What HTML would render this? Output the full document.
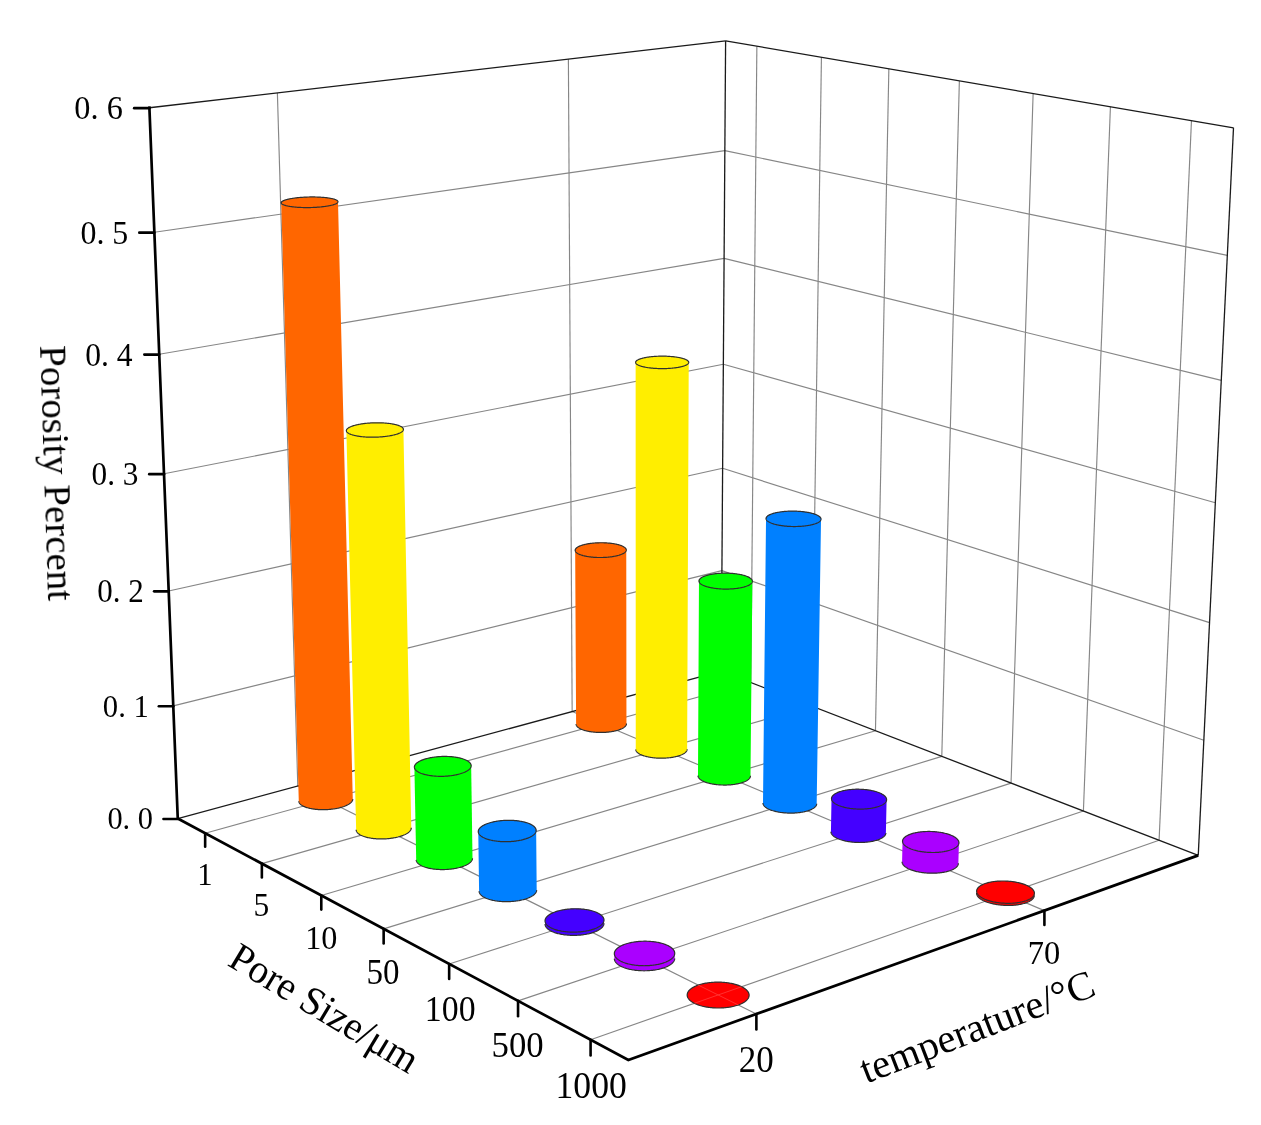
<!DOCTYPE html>
<html><head><meta charset="utf-8"><style>
html,body{margin:0;padding:0;background:#fff;}
svg{display:block;}
text{font-family:"Liberation Serif",serif;fill:#000;}
.t{opacity:0.999}
</style></head><body>
<svg width="1261" height="1125" viewBox="0 0 1261 1125">
<rect width="1261" height="1125" fill="#fff"/>
<line x1="173.27" y1="705.86" x2="721.91" y2="570.59" stroke="#868686" stroke-width="1.15"/>
<line x1="168.68" y1="590.95" x2="722.63" y2="468.31" stroke="#868686" stroke-width="1.15"/>
<line x1="164.01" y1="473.75" x2="723.35" y2="364.25" stroke="#868686" stroke-width="1.15"/>
<line x1="159.24" y1="354.2" x2="724.09" y2="258.35" stroke="#868686" stroke-width="1.15"/>
<line x1="154.37" y1="232.23" x2="724.84" y2="150.57" stroke="#868686" stroke-width="1.15"/>
<line x1="297.79" y1="785.99" x2="277.39" y2="92.9" stroke="#868686" stroke-width="1.15"/>
<line x1="572.15" y1="711.56" x2="568.39" y2="59.11" stroke="#868686" stroke-width="1.15"/>
<line x1="721.91" y1="570.59" x2="1203.83" y2="740.19" stroke="#868686" stroke-width="1.15"/>
<line x1="722.63" y1="468.31" x2="1209.53" y2="622.66" stroke="#868686" stroke-width="1.15"/>
<line x1="723.35" y1="364.25" x2="1215.34" y2="502.74" stroke="#868686" stroke-width="1.15"/>
<line x1="724.09" y1="258.35" x2="1221.27" y2="380.34" stroke="#868686" stroke-width="1.15"/>
<line x1="724.84" y1="150.57" x2="1227.32" y2="255.4" stroke="#868686" stroke-width="1.15"/>
<line x1="750.82" y1="682.56" x2="756.87" y2="46.21" stroke="#868686" stroke-width="1.15"/>
<line x1="811.86" y1="706.14" x2="821.43" y2="57.27" stroke="#868686" stroke-width="1.15"/>
<line x1="875.46" y1="730.71" x2="888.86" y2="68.82" stroke="#868686" stroke-width="1.15"/>
<line x1="941.8" y1="756.33" x2="959.36" y2="80.89" stroke="#868686" stroke-width="1.15"/>
<line x1="1011.05" y1="783.08" x2="1033.13" y2="93.52" stroke="#868686" stroke-width="1.15"/>
<line x1="1083.41" y1="811.03" x2="1110.42" y2="106.76" stroke="#868686" stroke-width="1.15"/>
<line x1="1159.09" y1="840.27" x2="1191.47" y2="120.64" stroke="#868686" stroke-width="1.15"/>
<line x1="205.15" y1="833.23" x2="750.82" y2="682.56" stroke="#868686" stroke-width="1.15"/>
<line x1="261.86" y1="863.61" x2="811.86" y2="706.14" stroke="#868686" stroke-width="1.15"/>
<line x1="321.29" y1="895.44" x2="875.46" y2="730.71" stroke="#868686" stroke-width="1.15"/>
<line x1="383.65" y1="928.85" x2="941.8" y2="756.33" stroke="#868686" stroke-width="1.15"/>
<line x1="449.15" y1="963.94" x2="1011.05" y2="783.08" stroke="#868686" stroke-width="1.15"/>
<line x1="518.04" y1="1000.84" x2="1083.41" y2="811.03" stroke="#868686" stroke-width="1.15"/>
<line x1="590.59" y1="1039.7" x2="1159.09" y2="840.27" stroke="#868686" stroke-width="1.15"/>
<line x1="297.79" y1="785.99" x2="756.38" y2="1013.97" stroke="#868686" stroke-width="1.15"/>
<line x1="572.15" y1="711.56" x2="1044.41" y2="910.6" stroke="#868686" stroke-width="1.15"/>
<line x1="149.4" y1="107.76" x2="725.61" y2="40.86" stroke="#1a1a1a" stroke-width="1.3"/>
<line x1="725.61" y1="40.86" x2="1233.5" y2="127.84" stroke="#1a1a1a" stroke-width="1.3"/>
<line x1="1233.5" y1="127.84" x2="1198.25" y2="855.39" stroke="#1a1a1a" stroke-width="1.3"/>
<line x1="721.21" y1="671.13" x2="725.61" y2="40.86" stroke="#1a1a1a" stroke-width="1.3"/>
<line x1="177.76" y1="818.56" x2="721.21" y2="671.13" stroke="#1a1a1a" stroke-width="1.3"/>
<line x1="721.21" y1="671.13" x2="1198.25" y2="855.39" stroke="#1a1a1a" stroke-width="1.3"/>
<polygon points="575.17,550.28 575.19,550.02 575.24,549.76 575.32,549.51 575.43,549.25 575.57,548.99 575.74,548.74 575.94,548.49 576.17,548.24 576.44,547.99 576.73,547.75 577.05,547.5 577.4,547.27 577.77,547.03 578.18,546.8 578.61,546.57 579.07,546.35 579.55,546.13 580.06,545.92 580.6,545.71 581.15,545.51 581.74,545.31 582.34,545.12 582.97,544.93 583.62,544.75 584.29,544.58 584.98,544.42 585.68,544.26 586.41,544.11 587.15,543.96 587.91,543.82 588.69,543.7 589.47,543.57 590.28,543.46 591.09,543.36 591.92,543.26 592.75,543.17 593.6,543.09 594.45,543.02 595.32,542.95 596.18,542.9 597.06,542.85 597.94,542.81 598.82,542.78 599.7,542.76 600.59,542.75 601.47,542.75 602.35,542.76 603.24,542.77 604.12,542.8 604.99,542.83 605.86,542.87 606.73,542.92 607.58,542.98 608.43,543.05 609.27,543.13 610.1,543.21 610.92,543.3 611.72,543.41 612.51,543.52 613.29,543.63 614.06,543.76 614.8,543.89 615.53,544.03 616.25,544.18 616.94,544.33 617.62,544.5 618.27,544.67 618.91,544.84 619.52,545.02 620.11,545.21 620.67,545.41 621.21,545.61 621.73,545.81 622.22,546.02 622.69,546.24 623.13,546.46 623.54,546.68 623.93,546.91 624.29,547.14 624.61,547.38 624.91,547.62 625.18,547.86 625.43,548.11 625.64,548.36 625.82,548.61 625.97,548.86 626.09,549.12 626.18,549.37 626.23,549.63 626.26,549.89 626.46,723.6 626.45,723.9 626.42,724.2 626.35,724.5 626.26,724.79 626.13,725.09 625.97,725.38 625.79,725.68 625.57,725.97 625.32,726.26 625.05,726.54 624.74,726.83 624.41,727.11 624.04,727.38 623.65,727.65 623.24,727.92 622.79,728.18 622.32,728.44 621.82,728.69 621.3,728.93 620.75,729.17 620.18,729.41 619.59,729.63 618.97,729.85 618.33,730.06 617.67,730.27 616.99,730.46 616.29,730.65 615.57,730.83 614.83,731 614.08,731.17 613.31,731.32 612.53,731.46 611.73,731.6 610.92,731.73 610.1,731.84 609.26,731.95 608.42,732.05 607.57,732.13 606.7,732.21 605.84,732.28 604.96,732.33 604.09,732.38 603.21,732.41 602.32,732.44 601.44,732.45 600.55,732.45 599.67,732.45 598.79,732.43 597.91,732.4 597.03,732.36 596.16,732.31 595.3,732.25 594.44,732.18 593.6,732.1 592.76,732.01 591.93,731.91 591.12,731.8 590.32,731.68 589.53,731.56 588.75,731.42 587.99,731.27 587.25,731.11 586.53,730.95 585.82,730.77 585.13,730.59 584.46,730.4 583.82,730.2 583.19,729.99 582.59,729.78 582.01,729.55 581.45,729.33 580.92,729.09 580.42,728.85 579.94,728.6 579.48,728.35 579.06,728.09 578.66,727.83 578.28,727.56 577.94,727.29 577.62,727.01 577.34,726.73 577.08,726.44 576.86,726.16 576.66,725.87 576.49,725.58 576.36,725.28 576.25,724.99 576.17,724.69 576.13,724.39 576.12,724.09" fill="#ff6600"/>
<polyline points="626.46,723.6 626.45,723.9 626.42,724.2 626.35,724.5 626.26,724.79 626.13,725.09 625.97,725.38 625.79,725.68 625.57,725.97 625.32,726.26 625.05,726.54 624.74,726.83 624.41,727.11 624.04,727.38 623.65,727.65 623.24,727.92 622.79,728.18 622.32,728.44 621.82,728.69 621.3,728.93 620.75,729.17 620.18,729.41 619.59,729.63 618.97,729.85 618.33,730.06 617.67,730.27 616.99,730.46 616.29,730.65 615.57,730.83 614.83,731 614.08,731.17 613.31,731.32 612.53,731.46 611.73,731.6 610.92,731.73 610.1,731.84 609.26,731.95 608.42,732.05 607.57,732.13 606.7,732.21 605.84,732.28 604.96,732.33 604.09,732.38 603.21,732.41 602.32,732.44 601.44,732.45 600.55,732.45 599.67,732.45 598.79,732.43 597.91,732.4 597.03,732.36 596.16,732.31 595.3,732.25 594.44,732.18 593.6,732.1 592.76,732.01 591.93,731.91 591.12,731.8 590.32,731.68 589.53,731.56 588.75,731.42 587.99,731.27 587.25,731.11 586.53,730.95 585.82,730.77 585.13,730.59 584.46,730.4 583.82,730.2 583.19,729.99 582.59,729.78 582.01,729.55 581.45,729.33 580.92,729.09 580.42,728.85 579.94,728.6 579.48,728.35 579.06,728.09 578.66,727.83 578.28,727.56 577.94,727.29 577.62,727.01 577.34,726.73 577.08,726.44 576.86,726.16 576.66,725.87 576.49,725.58 576.36,725.28 576.25,724.99 576.17,724.69 576.13,724.39 576.12,724.09" fill="none" stroke="#303030" stroke-width="1.2"/>
<polygon points="616.65,555.81 617.34,555.64 618.01,555.47 618.66,555.29 619.29,555.1 619.89,554.9 620.47,554.7 621.03,554.49 621.56,554.28 622.06,554.07 622.54,553.84 622.99,553.62 623.42,553.39 623.81,553.15 624.18,552.92 624.52,552.67 624.83,552.43 625.11,552.18 625.36,551.93 625.58,551.68 625.77,551.43 625.93,551.17 626.06,550.92 626.16,550.66 626.22,550.4 626.26,550.15 626.26,549.89 626.23,549.63 626.18,549.37 626.09,549.12 625.97,548.86 625.82,548.61 625.64,548.36 625.43,548.11 625.18,547.86 624.91,547.62 624.61,547.38 624.29,547.14 623.93,546.91 623.54,546.68 623.13,546.46 622.69,546.24 622.22,546.02 621.73,545.81 621.21,545.61 620.67,545.41 620.11,545.21 619.52,545.02 618.91,544.84 618.27,544.67 617.62,544.5 616.94,544.33 616.25,544.18 615.53,544.03 614.8,543.89 614.06,543.76 613.29,543.63 612.51,543.52 611.72,543.41 610.92,543.3 610.1,543.21 609.27,543.13 608.43,543.05 607.58,542.98 606.73,542.92 605.86,542.87 604.99,542.83 604.12,542.8 603.24,542.77 602.35,542.76 601.47,542.75 600.59,542.75 599.7,542.76 598.82,542.78 597.94,542.81 597.06,542.85 596.18,542.9 595.32,542.95 594.45,543.02 593.6,543.09 592.75,543.17 591.92,543.26 591.09,543.36 590.28,543.46 589.47,543.57 588.69,543.7 587.91,543.82 587.15,543.96 586.41,544.11 585.68,544.26 584.98,544.42 584.29,544.58 583.62,544.75 582.97,544.93 582.34,545.12 581.74,545.31 581.15,545.51 580.6,545.71 580.06,545.92 579.55,546.13 579.07,546.35 578.61,546.57 578.18,546.8 577.77,547.03 577.4,547.27 577.05,547.5 576.73,547.75 576.44,547.99 576.17,548.24 575.94,548.49 575.74,548.74 575.57,548.99 575.43,549.25 575.32,549.51 575.24,549.76 575.19,550.02 575.17,550.28 575.19,550.54 575.23,550.79 575.31,551.05 575.42,551.31 575.55,551.56 575.72,551.81 575.92,552.06 576.15,552.31 576.41,552.56 576.7,552.8 577.02,553.04 577.37,553.28 577.75,553.51 578.15,553.74 578.59,553.96 579.05,554.18 579.53,554.39 580.05,554.6 580.59,554.81 581.15,555 581.74,555.2 582.35,555.38 582.98,555.56 583.64,555.73 584.32,555.9 585.02,556.06 585.73,556.21 586.47,556.35 587.22,556.49 587.99,556.62 588.78,556.74 589.58,556.85 590.39,556.95 591.22,557.05 592.06,557.14 592.91,557.22 593.77,557.29 594.64,557.35 595.51,557.4 596.4,557.44 597.28,557.48 598.18,557.5 599.07,557.52 599.97,557.52 600.87,557.52 601.77,557.51 602.66,557.49 603.56,557.46 604.45,557.42 605.33,557.37 606.21,557.32 607.09,557.25 607.95,557.18 608.81,557.09 609.66,557 610.49,556.9 611.31,556.79 612.12,556.68 612.92,556.55 613.7,556.42 614.47,556.28 615.21,556.13 615.94,555.98" fill="#ff6600" stroke="#303030" stroke-width="1.2"/>
<polygon points="635.63,362.48 635.64,362.27 635.67,362.05 635.74,361.83 635.83,361.62 635.96,361.4 636.13,361.19 636.32,360.97 636.55,360.76 636.8,360.55 637.09,360.35 637.41,360.14 637.75,359.94 638.13,359.74 638.54,359.55 638.97,359.36 639.43,359.17 639.92,358.99 640.44,358.81 640.98,358.63 641.55,358.46 642.14,358.3 642.76,358.13 643.4,357.98 644.06,357.83 644.75,357.68 645.45,357.54 646.18,357.41 646.92,357.28 647.69,357.16 648.47,357.05 649.26,356.94 650.08,356.84 650.9,356.74 651.74,356.65 652.59,356.57 653.46,356.5 654.33,356.43 655.21,356.37 656.11,356.32 657.01,356.27 657.91,356.23 658.82,356.2 659.73,356.18 660.65,356.16 661.57,356.15 662.49,356.15 663.41,356.16 664.33,356.17 665.24,356.2 666.15,356.22 667.06,356.26 667.96,356.3 668.86,356.35 669.74,356.41 670.62,356.48 671.49,356.55 672.34,356.63 673.19,356.72 674.02,356.81 674.83,356.91 675.63,357.02 676.42,357.13 677.19,357.25 677.94,357.37 678.67,357.5 679.38,357.64 680.07,357.78 680.74,357.93 681.39,358.09 682.02,358.25 682.62,358.41 683.19,358.58 683.74,358.75 684.27,358.93 684.77,359.12 685.24,359.3 685.68,359.49 686.1,359.69 686.48,359.88 686.84,360.08 687.17,360.29 687.47,360.49 687.73,360.7 687.97,360.91 688.17,361.12 688.35,361.34 688.49,361.55 688.6,361.77 688.67,361.98 688.72,362.2 688.73,362.42 687.14,749.25 687.12,749.56 687.07,749.88 686.99,750.19 686.88,750.49 686.73,750.8 686.56,751.11 686.35,751.41 686.12,751.71 685.85,752.01 685.55,752.31 685.23,752.6 684.87,752.89 684.49,753.17 684.07,753.45 683.63,753.72 683.17,753.99 682.67,754.25 682.15,754.51 681.6,754.76 681.03,755 680.44,755.24 679.82,755.46 679.18,755.68 678.51,755.9 677.83,756.1 677.12,756.3 676.4,756.49 675.66,756.67 674.89,756.84 674.12,757 673.32,757.15 672.52,757.29 671.69,757.42 670.86,757.54 670.01,757.66 669.16,757.76 668.29,757.85 667.42,757.93 666.53,758 665.65,758.06 664.75,758.1 663.85,758.14 662.95,758.17 662.05,758.18 661.15,758.18 660.24,758.18 659.34,758.16 658.44,758.13 657.55,758.09 656.66,758.04 655.77,757.98 654.89,757.9 654.03,757.82 653.17,757.73 652.32,757.62 651.48,757.51 650.65,757.38 649.84,757.25 649.04,757.1 648.26,756.95 647.49,756.78 646.74,756.61 646.01,756.43 645.3,756.24 644.61,756.04 643.94,755.83 643.29,755.61 642.66,755.39 642.06,755.16 641.48,754.92 640.92,754.68 640.39,754.42 639.89,754.17 639.41,753.9 638.96,753.63 638.54,753.36 638.15,753.08 637.78,752.79 637.45,752.5 637.14,752.21 636.86,751.91 636.62,751.61 636.4,751.31 636.22,751.01 636.06,750.7 635.94,750.39 635.85,750.08 635.79,749.77 635.76,749.46" fill="#ffee00"/>
<polyline points="687.14,749.25 687.12,749.56 687.07,749.88 686.99,750.19 686.88,750.49 686.73,750.8 686.56,751.11 686.35,751.41 686.12,751.71 685.85,752.01 685.55,752.31 685.23,752.6 684.87,752.89 684.49,753.17 684.07,753.45 683.63,753.72 683.17,753.99 682.67,754.25 682.15,754.51 681.6,754.76 681.03,755 680.44,755.24 679.82,755.46 679.18,755.68 678.51,755.9 677.83,756.1 677.12,756.3 676.4,756.49 675.66,756.67 674.89,756.84 674.12,757 673.32,757.15 672.52,757.29 671.69,757.42 670.86,757.54 670.01,757.66 669.16,757.76 668.29,757.85 667.42,757.93 666.53,758 665.65,758.06 664.75,758.1 663.85,758.14 662.95,758.17 662.05,758.18 661.15,758.18 660.24,758.18 659.34,758.16 658.44,758.13 657.55,758.09 656.66,758.04 655.77,757.98 654.89,757.9 654.03,757.82 653.17,757.73 652.32,757.62 651.48,757.51 650.65,757.38 649.84,757.25 649.04,757.1 648.26,756.95 647.49,756.78 646.74,756.61 646.01,756.43 645.3,756.24 644.61,756.04 643.94,755.83 643.29,755.61 642.66,755.39 642.06,755.16 641.48,754.92 640.92,754.68 640.39,754.42 639.89,754.17 639.41,753.9 638.96,753.63 638.54,753.36 638.15,753.08 637.78,752.79 637.45,752.5 637.14,752.21 636.86,751.91 636.62,751.61 636.4,751.31 636.22,751.01 636.06,750.7 635.94,750.39 635.85,750.08 635.79,749.77 635.76,749.46" fill="none" stroke="#303030" stroke-width="1.2"/>
<polygon points="679.11,367.2 679.82,367.06 680.5,366.91 681.17,366.75 681.81,366.59 682.42,366.43 683.01,366.26 683.58,366.09 684.11,365.91 684.62,365.73 685.11,365.54 685.56,365.35 685.99,365.15 686.39,364.96 686.75,364.76 687.09,364.55 687.4,364.35 687.67,364.14 687.91,363.93 688.13,363.72 688.31,363.5 688.46,363.29 688.57,363.07 688.66,362.85 688.71,362.64 688.73,362.42 688.72,362.2 688.67,361.98 688.6,361.77 688.49,361.55 688.35,361.34 688.17,361.12 687.97,360.91 687.73,360.7 687.47,360.49 687.17,360.29 686.84,360.08 686.48,359.88 686.1,359.69 685.68,359.49 685.24,359.3 684.77,359.12 684.27,358.93 683.74,358.75 683.19,358.58 682.62,358.41 682.02,358.25 681.39,358.09 680.74,357.93 680.07,357.78 679.38,357.64 678.67,357.5 677.94,357.37 677.19,357.25 676.42,357.13 675.63,357.02 674.83,356.91 674.02,356.81 673.19,356.72 672.34,356.63 671.49,356.55 670.62,356.48 669.74,356.41 668.86,356.35 667.96,356.3 667.06,356.26 666.15,356.22 665.24,356.2 664.33,356.17 663.41,356.16 662.49,356.15 661.57,356.15 660.65,356.16 659.73,356.18 658.82,356.2 657.91,356.23 657.01,356.27 656.11,356.32 655.21,356.37 654.33,356.43 653.46,356.5 652.59,356.57 651.74,356.65 650.9,356.74 650.08,356.84 649.26,356.94 648.47,357.05 647.69,357.16 646.92,357.28 646.18,357.41 645.45,357.54 644.75,357.68 644.06,357.83 643.4,357.98 642.76,358.13 642.14,358.3 641.55,358.46 640.98,358.63 640.44,358.81 639.92,358.99 639.43,359.17 638.97,359.36 638.54,359.55 638.13,359.74 637.75,359.94 637.41,360.14 637.09,360.35 636.8,360.55 636.55,360.76 636.32,360.97 636.13,361.19 635.96,361.4 635.83,361.62 635.74,361.83 635.67,362.05 635.64,362.27 635.63,362.48 635.66,362.7 635.73,362.92 635.82,363.14 635.95,363.35 636.11,363.57 636.3,363.78 636.52,363.99 636.78,364.2 637.07,364.41 637.38,364.62 637.73,364.82 638.11,365.02 638.51,365.21 638.95,365.41 639.41,365.6 639.91,365.78 640.43,365.96 640.97,366.14 641.55,366.31 642.15,366.48 642.77,366.64 643.42,366.8 644.09,366.95 644.78,367.1 645.5,367.24 646.23,367.38 646.99,367.5 647.76,367.63 648.55,367.74 649.36,367.85 650.19,367.95 651.03,368.05 651.88,368.14 652.75,368.22 653.63,368.29 654.51,368.36 655.41,368.42 656.32,368.47 657.23,368.52 658.15,368.56 659.08,368.59 660.01,368.61 660.94,368.62 661.87,368.63 662.81,368.63 663.74,368.62 664.67,368.6 665.6,368.58 666.52,368.55 667.44,368.51 668.35,368.46 669.26,368.4 670.15,368.34 671.04,368.27 671.91,368.2 672.77,368.11 673.62,368.02 674.46,367.92 675.28,367.82 676.08,367.71 676.87,367.59 677.63,367.47 678.38,367.33" fill="#ffee00" stroke="#303030" stroke-width="1.2"/>
<polygon points="697.99,775.61 698.97,580.99 698.98,580.71 699.03,580.44 699.12,580.16 699.23,579.88 699.38,579.61 699.56,579.34 699.77,579.07 700.01,578.8 700.28,578.54 700.58,578.28 700.92,578.02 701.28,577.77 701.67,577.52 702.09,577.27 702.54,577.03 703.02,576.8 703.53,576.57 704.06,576.34 704.62,576.13 705.2,575.91 705.81,575.71 706.44,575.51 707.09,575.31 707.77,575.13 708.47,574.95 709.18,574.78 709.92,574.62 710.68,574.46 711.46,574.31 712.25,574.17 713.06,574.04 713.88,573.92 714.72,573.81 715.57,573.7 716.43,573.6 717.3,573.52 718.18,573.44 719.08,573.37 719.98,573.31 720.88,573.26 721.8,573.22 722.71,573.19 723.63,573.17 724.56,573.16 725.48,573.15 726.4,573.16 727.33,573.18 728.25,573.2 729.17,573.24 730.08,573.28 730.99,573.34 731.89,573.4 732.79,573.47 733.68,573.56 734.55,573.65 735.42,573.75 736.28,573.86 737.12,573.98 737.95,574.1 738.76,574.24 739.56,574.38 740.34,574.53 741.1,574.69 741.85,574.86 742.58,575.03 743.28,575.21 743.97,575.4 744.63,575.6 745.27,575.8 745.89,576.01 746.48,576.23 747.05,576.45 747.59,576.67 748.11,576.91 748.59,577.14 749.06,577.39 749.49,577.63 749.89,577.88 750.27,578.14 750.61,578.4 750.93,578.66 751.21,578.93 751.46,579.19 751.69,579.46 751.88,579.74 752.04,580.01 752.16,580.29 752.26,580.56 752.32,580.84 752.35,581.12 750.49,775.71 750.48,776.04 750.45,776.36 750.38,776.69 750.28,777.01 750.15,777.33 749.99,777.65 749.8,777.97 749.57,778.28 749.31,778.6 749.03,778.9 748.71,779.21 748.36,779.51 747.98,779.8 747.58,780.09 747.14,780.38 746.68,780.66 746.19,780.93 745.67,781.2 745.12,781.46 744.55,781.72 743.96,781.96 743.34,782.2 742.69,782.43 742.03,782.66 741.34,782.87 740.63,783.08 739.9,783.27 739.15,783.46 738.38,783.64 737.6,783.81 736.79,783.96 735.98,784.11 735.14,784.25 734.3,784.38 733.44,784.49 732.57,784.6 731.69,784.69 730.8,784.78 729.9,784.85 729,784.91 728.09,784.96 727.17,785 726.25,785.03 725.33,785.04 724.41,785.05 723.48,785.04 722.56,785.02 721.64,784.99 720.72,784.95 719.81,784.89 718.9,784.83 718,784.75 717.11,784.67 716.23,784.57 715.35,784.46 714.49,784.34 713.64,784.21 712.8,784.07 711.98,783.92 711.17,783.75 710.38,783.58 709.61,783.4 708.85,783.21 708.11,783.01 707.39,782.8 706.7,782.59 706.02,782.36 705.37,782.13 704.74,781.89 704.14,781.64 703.56,781.38 703,781.12 702.48,780.85 701.97,780.57 701.5,780.29 701.06,780 700.64,779.71 700.25,779.42 699.89,779.11 699.56,778.81 699.26,778.5 699,778.19 698.76,777.87 698.55,777.55 698.38,777.23 698.24,776.91 698.13,776.59 698.05,776.26 698,775.94" fill="#00ff00"/>
<polyline points="750.49,775.71 750.48,776.04 750.45,776.36 750.38,776.69 750.28,777.01 750.15,777.33 749.99,777.65 749.8,777.97 749.57,778.28 749.31,778.6 749.03,778.9 748.71,779.21 748.36,779.51 747.98,779.8 747.58,780.09 747.14,780.38 746.68,780.66 746.19,780.93 745.67,781.2 745.12,781.46 744.55,781.72 743.96,781.96 743.34,782.2 742.69,782.43 742.03,782.66 741.34,782.87 740.63,783.08 739.9,783.27 739.15,783.46 738.38,783.64 737.6,783.81 736.79,783.96 735.98,784.11 735.14,784.25 734.3,784.38 733.44,784.49 732.57,784.6 731.69,784.69 730.8,784.78 729.9,784.85 729,784.91 728.09,784.96 727.17,785 726.25,785.03 725.33,785.04 724.41,785.05 723.48,785.04 722.56,785.02 721.64,784.99 720.72,784.95 719.81,784.89 718.9,784.83 718,784.75 717.11,784.67 716.23,784.57 715.35,784.46 714.49,784.34 713.64,784.21 712.8,784.07 711.98,783.92 711.17,783.75 710.38,783.58 709.61,783.4 708.85,783.21 708.11,783.01 707.39,782.8 706.7,782.59 706.02,782.36 705.37,782.13 704.74,781.89 704.14,781.64 703.56,781.38 703,781.12 702.48,780.85 701.97,780.57 701.5,780.29 701.06,780 700.64,779.71 700.25,779.42 699.89,779.11 699.56,778.81 699.26,778.5 699,778.19 698.76,777.87 698.55,777.55 698.38,777.23 698.24,776.91 698.13,776.59 698.05,776.26 698,775.94 697.99,775.61" fill="none" stroke="#303030" stroke-width="1.2"/>
<polygon points="743.06,587.23 743.76,587.05 744.43,586.86 745.09,586.66 745.72,586.46 746.32,586.25 746.9,586.03 747.46,585.81 747.98,585.58 748.48,585.35 748.95,585.11 749.4,584.86 749.81,584.61 750.19,584.36 750.55,584.1 750.87,583.84 751.16,583.58 751.42,583.31 751.65,583.05 751.85,582.77 752.01,582.5 752.14,582.23 752.24,581.95 752.31,581.67 752.35,581.4 752.35,581.12 752.32,580.84 752.26,580.56 752.16,580.29 752.04,580.01 751.88,579.74 751.69,579.46 751.46,579.19 751.21,578.93 750.93,578.66 750.61,578.4 750.27,578.14 749.89,577.88 749.49,577.63 749.06,577.39 748.59,577.14 748.11,576.91 747.59,576.67 747.05,576.45 746.48,576.23 745.89,576.01 745.27,575.8 744.63,575.6 743.97,575.4 743.28,575.21 742.58,575.03 741.85,574.86 741.1,574.69 740.34,574.53 739.56,574.38 738.76,574.24 737.95,574.1 737.12,573.98 736.28,573.86 735.42,573.75 734.55,573.65 733.68,573.56 732.79,573.47 731.89,573.4 730.99,573.34 730.08,573.28 729.17,573.24 728.25,573.2 727.33,573.18 726.4,573.16 725.48,573.15 724.56,573.16 723.63,573.17 722.71,573.19 721.8,573.22 720.88,573.26 719.98,573.31 719.08,573.37 718.18,573.44 717.3,573.52 716.43,573.6 715.57,573.7 714.72,573.81 713.88,573.92 713.06,574.04 712.25,574.17 711.46,574.31 710.68,574.46 709.92,574.62 709.18,574.78 708.47,574.95 707.77,575.13 707.09,575.31 706.44,575.51 705.81,575.71 705.2,575.91 704.62,576.13 704.06,576.34 703.53,576.57 703.02,576.8 702.54,577.03 702.09,577.27 701.67,577.52 701.28,577.77 700.92,578.02 700.58,578.28 700.28,578.54 700.01,578.8 699.77,579.07 699.56,579.34 699.38,579.61 699.23,579.88 699.12,580.16 699.03,580.44 698.98,580.71 698.97,580.99 698.98,581.27 699.03,581.55 699.11,581.82 699.22,582.1 699.37,582.38 699.55,582.65 699.76,582.92 700,583.19 700.27,583.46 700.57,583.73 700.91,583.99 701.27,584.25 701.67,584.5 702.09,584.75 702.55,585 703.03,585.24 703.54,585.47 704.07,585.7 704.64,585.93 705.23,586.15 705.84,586.36 706.48,586.57 707.15,586.77 707.83,586.96 708.54,587.15 709.27,587.33 710.02,587.5 710.79,587.66 711.58,587.82 712.38,587.96 713.2,588.1 714.04,588.23 714.89,588.35 715.76,588.47 716.64,588.57 717.52,588.66 718.42,588.75 719.33,588.82 720.25,588.89 721.17,588.95 722.1,588.99 723.03,589.03 723.97,589.05 724.9,589.07 725.84,589.08 726.78,589.08 727.72,589.06 728.65,589.04 729.58,589.01 730.51,588.97 731.43,588.92 732.34,588.85 733.25,588.78 734.14,588.7 735.03,588.61 735.9,588.51 736.76,588.41 737.61,588.29 738.44,588.16 739.25,588.03 740.05,587.89 740.83,587.73 741.59,587.57 742.34,587.41" fill="#00ff00" stroke="#303030" stroke-width="1.2"/>
<polygon points="281.2,202.69 281.23,202.5 281.3,202.32 281.4,202.13 281.54,201.95 281.71,201.76 281.92,201.58 282.16,201.39 282.43,201.21 282.73,201.03 283.07,200.85 283.44,200.67 283.84,200.5 284.27,200.32 284.74,200.15 285.23,199.98 285.75,199.82 286.3,199.66 286.88,199.5 287.49,199.34 288.12,199.19 288.78,199.04 289.46,198.89 290.17,198.75 290.9,198.62 291.65,198.48 292.43,198.36 293.22,198.23 294.04,198.12 294.87,198 295.72,197.9 296.59,197.79 297.47,197.7 298.37,197.6 299.28,197.52 300.21,197.44 301.14,197.36 302.08,197.3 303.04,197.23 304,197.18 304.97,197.13 305.94,197.08 306.92,197.04 307.9,197.01 308.88,196.99 309.86,196.97 310.85,196.95 311.83,196.95 312.81,196.95 313.78,196.95 314.75,196.97 315.71,196.99 316.67,197.01 317.62,197.04 318.56,197.08 319.48,197.13 320.4,197.18 321.3,197.23 322.19,197.29 323.07,197.36 323.93,197.44 324.77,197.52 325.59,197.6 326.39,197.7 327.18,197.79 327.94,197.89 328.68,198 329.4,198.11 330.09,198.23 330.76,198.36 331.41,198.48 332.02,198.61 332.61,198.75 333.18,198.89 333.71,199.04 334.22,199.19 334.7,199.34 335.14,199.49 335.56,199.65 335.94,199.82 336.3,199.98 336.62,200.15 336.91,200.32 337.16,200.49 337.38,200.67 337.57,200.85 337.72,201.03 337.84,201.21 337.93,201.39 337.98,201.57 338,201.76 352.77,798.95 352.76,799.29 352.71,799.63 352.63,799.97 352.52,800.31 352.38,800.64 352.2,800.98 351.99,801.32 351.75,801.65 351.48,801.99 351.18,802.32 350.84,802.64 350.47,802.97 350.08,803.29 349.65,803.61 349.2,803.92 348.71,804.23 348.2,804.53 347.66,804.83 347.09,805.12 346.5,805.4 345.88,805.68 345.24,805.96 344.57,806.22 343.88,806.48 343.16,806.73 342.43,806.97 341.67,807.2 340.9,807.42 340.1,807.64 339.29,807.84 338.46,808.04 337.62,808.22 336.76,808.4 335.89,808.56 335,808.72 334.1,808.86 333.19,808.99 332.28,809.11 331.35,809.22 330.42,809.32 329.48,809.41 328.54,809.49 327.59,809.55 326.65,809.6 325.7,809.64 324.75,809.67 323.8,809.69 322.85,809.69 321.91,809.68 320.97,809.66 320.04,809.63 319.12,809.59 318.2,809.53 317.3,809.46 316.4,809.39 315.52,809.29 314.64,809.19 313.79,809.08 312.94,808.95 312.12,808.82 311.31,808.67 310.52,808.51 309.74,808.35 308.99,808.17 308.26,807.98 307.55,807.78 306.86,807.57 306.19,807.36 305.55,807.13 304.94,806.9 304.35,806.65 303.79,806.4 303.25,806.14 302.74,805.88 302.26,805.6 301.81,805.32 301.39,805.03 301,804.74 300.64,804.44 300.31,804.14 300.01,803.83 299.75,803.51 299.51,803.19 299.31,802.87 299.14,802.55 299,802.22 298.9,801.89 298.83,801.55 298.79,801.22 281.2,202.87" fill="#ff6600"/>
<polyline points="352.77,798.95 352.76,799.29 352.71,799.63 352.63,799.97 352.52,800.31 352.38,800.64 352.2,800.98 351.99,801.32 351.75,801.65 351.48,801.99 351.18,802.32 350.84,802.64 350.47,802.97 350.08,803.29 349.65,803.61 349.2,803.92 348.71,804.23 348.2,804.53 347.66,804.83 347.09,805.12 346.5,805.4 345.88,805.68 345.24,805.96 344.57,806.22 343.88,806.48 343.16,806.73 342.43,806.97 341.67,807.2 340.9,807.42 340.1,807.64 339.29,807.84 338.46,808.04 337.62,808.22 336.76,808.4 335.89,808.56 335,808.72 334.1,808.86 333.19,808.99 332.28,809.11 331.35,809.22 330.42,809.32 329.48,809.41 328.54,809.49 327.59,809.55 326.65,809.6 325.7,809.64 324.75,809.67 323.8,809.69 322.85,809.69 321.91,809.68 320.97,809.66 320.04,809.63 319.12,809.59 318.2,809.53 317.3,809.46 316.4,809.39 315.52,809.29 314.64,809.19 313.79,809.08 312.94,808.95 312.12,808.82 311.31,808.67 310.52,808.51 309.74,808.35 308.99,808.17 308.26,807.98 307.55,807.78 306.86,807.57 306.19,807.36 305.55,807.13 304.94,806.9 304.35,806.65 303.79,806.4 303.25,806.14 302.74,805.88 302.26,805.6 301.81,805.32 301.39,805.03 301,804.74 300.64,804.44 300.31,804.14 300.01,803.83 299.75,803.51 299.51,803.19 299.31,802.87 299.14,802.55 299,802.22 298.9,801.89 298.83,801.55 298.79,801.22" fill="none" stroke="#303030" stroke-width="1.2"/>
<polygon points="325.41,206.38 326.22,206.26 327.02,206.13 327.8,206 328.55,205.87 329.28,205.73 329.99,205.58 330.67,205.44 331.33,205.28 331.95,205.13 332.55,204.97 333.12,204.81 333.67,204.64 334.18,204.48 334.66,204.3 335.12,204.13 335.54,203.96 335.93,203.78 336.28,203.6 336.61,203.42 336.9,203.24 337.15,203.05 337.38,202.87 337.57,202.68 337.72,202.5 337.84,202.31 337.93,202.13 337.98,201.94 338,201.76 337.98,201.57 337.93,201.39 337.84,201.21 337.72,201.03 337.57,200.85 337.38,200.67 337.16,200.49 336.91,200.32 336.62,200.15 336.3,199.98 335.94,199.82 335.56,199.65 335.14,199.49 334.7,199.34 334.22,199.19 333.71,199.04 333.18,198.89 332.61,198.75 332.02,198.61 331.41,198.48 330.76,198.36 330.09,198.23 329.4,198.11 328.68,198 327.94,197.89 327.18,197.79 326.39,197.7 325.59,197.6 324.77,197.52 323.93,197.44 323.07,197.36 322.19,197.29 321.3,197.23 320.4,197.18 319.48,197.13 318.56,197.08 317.62,197.04 316.67,197.01 315.71,196.99 314.75,196.97 313.78,196.95 312.81,196.95 311.83,196.95 310.85,196.95 309.86,196.97 308.88,196.99 307.9,197.01 306.92,197.04 305.94,197.08 304.97,197.13 304,197.18 303.04,197.23 302.08,197.3 301.14,197.36 300.21,197.44 299.28,197.52 298.37,197.6 297.47,197.7 296.59,197.79 295.72,197.9 294.87,198 294.04,198.12 293.22,198.23 292.43,198.36 291.65,198.48 290.9,198.62 290.17,198.75 289.46,198.89 288.78,199.04 288.12,199.19 287.49,199.34 286.88,199.5 286.3,199.66 285.75,199.82 285.23,199.98 284.74,200.15 284.27,200.32 283.84,200.5 283.44,200.67 283.07,200.85 282.73,201.03 282.43,201.21 282.16,201.39 281.92,201.58 281.71,201.76 281.54,201.95 281.4,202.13 281.3,202.32 281.23,202.5 281.2,202.69 281.2,202.87 281.24,203.06 281.31,203.24 281.41,203.42 281.55,203.6 281.72,203.78 281.93,203.96 282.17,204.14 282.45,204.31 282.76,204.48 283.1,204.65 283.48,204.81 283.88,204.97 284.32,205.13 284.79,205.29 285.29,205.44 285.82,205.59 286.38,205.73 286.97,205.87 287.59,206.01 288.23,206.14 288.9,206.26 289.6,206.38 290.32,206.5 291.06,206.61 291.83,206.71 292.62,206.81 293.43,206.91 294.26,207 295.11,207.08 295.98,207.16 296.86,207.23 297.76,207.29 298.68,207.35 299.61,207.4 300.55,207.45 301.5,207.49 302.46,207.52 303.44,207.54 304.42,207.56 305.4,207.58 306.39,207.58 307.39,207.58 308.38,207.58 309.38,207.56 310.38,207.54 311.38,207.52 312.38,207.48 313.37,207.44 314.36,207.4 315.34,207.35 316.31,207.29 317.28,207.22 318.24,207.15 319.18,207.08 320.12,206.99 321.04,206.91 321.94,206.81 322.84,206.71 323.71,206.61 324.57,206.5" fill="#ff6600" stroke="#303030" stroke-width="1.2"/>
<polygon points="762.99,802.92 766.03,518.43 766.06,518.16 766.13,517.89 766.23,517.62 766.36,517.36 766.52,517.1 766.72,516.84 766.95,516.58 767.21,516.32 767.51,516.07 767.84,515.82 768.19,515.58 768.58,515.34 769,515.1 769.44,514.87 769.92,514.64 770.43,514.42 770.96,514.2 771.52,513.99 772.1,513.78 772.72,513.58 773.35,513.39 774.01,513.2 774.7,513.02 775.4,512.85 776.13,512.69 776.88,512.53 777.65,512.38 778.44,512.24 779.25,512.1 780.07,511.98 780.91,511.86 781.76,511.75 782.63,511.65 783.51,511.55 784.4,511.47 785.31,511.39 786.22,511.33 787.15,511.27 788.08,511.22 789.01,511.18 789.95,511.15 790.9,511.13 791.85,511.12 792.8,511.12 793.75,511.13 794.71,511.14 795.66,511.17 796.6,511.2 797.55,511.25 798.49,511.3 799.42,511.36 800.35,511.43 801.27,511.51 802.18,511.6 803.08,511.7 803.96,511.8 804.84,511.92 805.7,512.04 806.55,512.17 807.38,512.31 808.2,512.46 808.99,512.61 809.77,512.77 810.53,512.94 811.27,513.12 811.99,513.3 812.69,513.49 813.36,513.69 814.01,513.89 814.63,514.1 815.23,514.31 815.81,514.53 816.35,514.76 816.87,514.99 817.36,515.22 817.83,515.46 818.26,515.7 818.66,515.95 819.04,516.2 819.38,516.45 819.69,516.71 819.97,516.97 820.22,517.23 820.43,517.5 820.61,517.76 820.76,518.03 820.88,518.3 820.96,518.56 821.01,518.83 821.03,519.1 816.67,803.7 816.66,804.04 816.61,804.37 816.52,804.71 816.41,805.05 816.26,805.38 816.08,805.71 815.86,806.04 815.62,806.37 815.34,806.69 815.03,807.01 814.7,807.32 814.33,807.63 813.93,807.94 813.5,808.24 813.04,808.53 812.55,808.81 812.04,809.09 811.49,809.37 810.93,809.63 810.33,809.89 809.71,810.14 809.06,810.38 808.4,810.61 807.7,810.84 806.99,811.05 806.25,811.26 805.5,811.46 804.72,811.64 803.93,811.82 803.12,811.98 802.29,812.14 801.45,812.28 800.59,812.41 799.72,812.54 798.83,812.65 797.94,812.75 797.03,812.83 796.12,812.91 795.2,812.97 794.27,813.03 793.34,813.07 792.4,813.1 791.46,813.11 790.51,813.12 789.57,813.11 788.63,813.09 787.68,813.06 786.74,813.01 785.81,812.96 784.88,812.89 783.95,812.81 783.04,812.72 782.13,812.62 781.23,812.5 780.34,812.38 779.46,812.24 778.6,812.09 777.75,811.94 776.91,811.77 776.1,811.59 775.29,811.4 774.51,811.2 773.75,810.99 773,810.77 772.28,810.55 771.58,810.31 770.9,810.07 770.24,809.82 769.61,809.56 769,809.29 768.42,809.01 767.87,808.73 767.34,808.44 766.84,808.15 766.37,807.85 765.93,807.54 765.51,807.23 765.13,806.92 764.78,806.6 764.46,806.27 764.17,805.95 763.91,805.62 763.68,805.28 763.48,804.95 763.32,804.61 763.19,804.27 763.09,803.93 763.03,803.6 762.99,803.26" fill="#0080ff"/>
<polyline points="816.67,803.7 816.66,804.04 816.61,804.37 816.52,804.71 816.41,805.05 816.26,805.38 816.08,805.71 815.86,806.04 815.62,806.37 815.34,806.69 815.03,807.01 814.7,807.32 814.33,807.63 813.93,807.94 813.5,808.24 813.04,808.53 812.55,808.81 812.04,809.09 811.49,809.37 810.93,809.63 810.33,809.89 809.71,810.14 809.06,810.38 808.4,810.61 807.7,810.84 806.99,811.05 806.25,811.26 805.5,811.46 804.72,811.64 803.93,811.82 803.12,811.98 802.29,812.14 801.45,812.28 800.59,812.41 799.72,812.54 798.83,812.65 797.94,812.75 797.03,812.83 796.12,812.91 795.2,812.97 794.27,813.03 793.34,813.07 792.4,813.1 791.46,813.11 790.51,813.12 789.57,813.11 788.63,813.09 787.68,813.06 786.74,813.01 785.81,812.96 784.88,812.89 783.95,812.81 783.04,812.72 782.13,812.62 781.23,812.5 780.34,812.38 779.46,812.24 778.6,812.09 777.75,811.94 776.91,811.77 776.1,811.59 775.29,811.4 774.51,811.2 773.75,810.99 773,810.77 772.28,810.55 771.58,810.31 770.9,810.07 770.24,809.82 769.61,809.56 769,809.29 768.42,809.01 767.87,808.73 767.34,808.44 766.84,808.15 766.37,807.85 765.93,807.54 765.51,807.23 765.13,806.92 764.78,806.6 764.46,806.27 764.17,805.95 763.91,805.62 763.68,805.28 763.48,804.95 763.32,804.61 763.19,804.27 763.09,803.93 763.03,803.6 762.99,803.26 762.99,802.92" fill="none" stroke="#303030" stroke-width="1.2"/>
<polygon points="811.86,524.75 812.57,524.57 813.25,524.39 813.92,524.2 814.55,524 815.16,523.8 815.74,523.59 816.3,523.37 816.82,523.15 817.32,522.92 817.79,522.69 818.23,522.46 818.64,522.22 819.01,521.97 819.36,521.72 819.67,521.47 819.96,521.22 820.21,520.96 820.42,520.7 820.61,520.44 820.76,520.17 820.88,519.91 820.96,519.64 821.01,519.37 821.03,519.1 821.01,518.83 820.96,518.56 820.88,518.3 820.76,518.03 820.61,517.76 820.43,517.5 820.22,517.23 819.97,516.97 819.69,516.71 819.38,516.45 819.04,516.2 818.66,515.95 818.26,515.7 817.83,515.46 817.36,515.22 816.87,514.99 816.35,514.76 815.81,514.53 815.23,514.31 814.63,514.1 814.01,513.89 813.36,513.69 812.69,513.49 811.99,513.3 811.27,513.12 810.53,512.94 809.77,512.77 808.99,512.61 808.2,512.46 807.38,512.31 806.55,512.17 805.7,512.04 804.84,511.92 803.96,511.8 803.08,511.7 802.18,511.6 801.27,511.51 800.35,511.43 799.42,511.36 798.49,511.3 797.55,511.25 796.6,511.2 795.66,511.17 794.71,511.14 793.75,511.13 792.8,511.12 791.85,511.12 790.9,511.13 789.95,511.15 789.01,511.18 788.08,511.22 787.15,511.27 786.22,511.33 785.31,511.39 784.4,511.47 783.51,511.55 782.63,511.65 781.76,511.75 780.91,511.86 780.07,511.98 779.25,512.1 778.44,512.24 777.65,512.38 776.88,512.53 776.13,512.69 775.4,512.85 774.7,513.02 774.01,513.2 773.35,513.39 772.72,513.58 772.1,513.78 771.52,513.99 770.96,514.2 770.43,514.42 769.92,514.64 769.44,514.87 769,515.1 768.58,515.34 768.19,515.58 767.84,515.82 767.51,516.07 767.21,516.32 766.95,516.58 766.72,516.84 766.52,517.1 766.36,517.36 766.23,517.62 766.13,517.89 766.06,518.16 766.03,518.43 766.03,518.7 766.06,518.96 766.13,519.23 766.23,519.5 766.37,519.77 766.54,520.04 766.74,520.3 766.97,520.57 767.24,520.83 767.54,521.09 767.87,521.34 768.23,521.6 768.62,521.85 769.04,522.09 769.5,522.34 769.98,522.57 770.49,522.81 771.04,523.04 771.6,523.26 772.2,523.48 772.82,523.69 773.47,523.9 774.14,524.1 774.84,524.29 775.56,524.48 776.3,524.66 777.07,524.83 777.85,525 778.65,525.16 779.48,525.31 780.31,525.45 781.17,525.58 782.04,525.71 782.93,525.83 783.83,525.94 784.74,526.04 785.66,526.13 786.59,526.21 787.53,526.28 788.48,526.35 789.43,526.4 790.39,526.45 791.35,526.48 792.32,526.51 793.29,526.53 794.26,526.53 795.22,526.53 796.19,526.52 797.15,526.5 798.1,526.47 799.06,526.43 800,526.38 800.94,526.32 801.86,526.25 802.78,526.17 803.68,526.08 804.58,525.99 805.45,525.88 806.32,525.77 807.17,525.65 808,525.52 808.81,525.38 809.6,525.23 810.38,525.08 811.13,524.92" fill="#0080ff" stroke="#303030" stroke-width="1.2"/>
<polygon points="346.37,430.62 346.38,430.37 346.43,430.11 346.52,429.86 346.64,429.61 346.79,429.36 346.98,429.11 347.2,428.86 347.46,428.61 347.74,428.37 348.07,428.12 348.42,427.88 348.81,427.64 349.22,427.4 349.67,427.17 350.15,426.94 350.66,426.72 351.2,426.49 351.76,426.28 352.36,426.06 352.98,425.86 353.63,425.65 354.3,425.46 355,425.26 355.72,425.08 356.46,424.9 357.23,424.72 358.02,424.55 358.82,424.39 359.65,424.24 360.49,424.09 361.36,423.95 362.23,423.82 363.13,423.69 364.04,423.57 364.96,423.46 365.89,423.36 366.83,423.27 367.78,423.18 368.74,423.1 369.71,423.03 370.69,422.97 371.66,422.92 372.65,422.87 373.63,422.84 374.62,422.81 375.61,422.79 376.59,422.78 377.58,422.78 378.56,422.78 379.54,422.8 380.51,422.82 381.47,422.86 382.43,422.9 383.38,422.95 384.31,423.01 385.24,423.07 386.15,423.15 387.05,423.23 387.94,423.32 388.81,423.42 389.66,423.53 390.5,423.65 391.32,423.77 392.12,423.9 392.89,424.04 393.65,424.18 394.38,424.33 395.09,424.49 395.78,424.66 396.44,424.83 397.07,425.01 397.68,425.19 398.26,425.38 398.82,425.58 399.34,425.78 399.84,425.98 400.3,426.19 400.73,426.41 401.14,426.63 401.51,426.85 401.85,427.08 402.16,427.31 402.43,427.55 402.67,427.79 402.88,428.03 403.05,428.27 403.19,428.52 403.29,428.76 403.36,429.01 403.4,429.26 411.26,827.71 411.27,828.06 411.24,828.41 411.17,828.77 411.07,829.12 410.94,829.47 410.78,829.83 410.58,830.18 410.35,830.53 410.09,830.88 409.79,831.22 409.47,831.57 409.11,831.91 408.72,832.24 408.3,832.57 407.85,832.9 407.37,833.22 406.86,833.54 406.32,833.85 405.75,834.16 405.16,834.46 404.54,834.75 403.9,835.03 403.23,835.31 402.53,835.58 401.81,835.84 401.07,836.09 400.31,836.33 399.53,836.57 398.73,836.79 397.9,837.01 397.07,837.21 396.21,837.41 395.34,837.59 394.46,837.76 393.56,837.92 392.65,838.07 391.72,838.21 390.79,838.34 389.85,838.46 388.9,838.56 387.95,838.65 386.99,838.73 386.02,838.8 385.05,838.85 384.09,838.89 383.12,838.92 382.15,838.94 381.18,838.94 380.22,838.94 379.26,838.92 378.3,838.88 377.36,838.84 376.42,838.78 375.49,838.71 374.57,838.63 373.66,838.53 372.76,838.42 371.88,838.31 371.01,838.18 370.16,838.03 369.32,837.88 368.51,837.72 367.71,837.54 366.93,837.35 366.17,837.16 365.43,836.95 364.72,836.73 364.03,836.5 363.37,836.27 362.73,836.02 362.11,835.77 361.52,835.5 360.96,835.23 360.43,834.95 359.93,834.67 359.46,834.37 359.01,834.07 358.6,833.77 358.22,833.45 357.86,833.13 357.54,832.81 357.26,832.48 357,832.15 356.78,831.81 356.59,831.47 356.44,831.13 356.31,830.78 356.23,830.43 356.17,830.08 356.15,829.73" fill="#ffee00"/>
<polyline points="411.26,827.71 411.27,828.06 411.24,828.41 411.17,828.77 411.07,829.12 410.94,829.47 410.78,829.83 410.58,830.18 410.35,830.53 410.09,830.88 409.79,831.22 409.47,831.57 409.11,831.91 408.72,832.24 408.3,832.57 407.85,832.9 407.37,833.22 406.86,833.54 406.32,833.85 405.75,834.16 405.16,834.46 404.54,834.75 403.9,835.03 403.23,835.31 402.53,835.58 401.81,835.84 401.07,836.09 400.31,836.33 399.53,836.57 398.73,836.79 397.9,837.01 397.07,837.21 396.21,837.41 395.34,837.59 394.46,837.76 393.56,837.92 392.65,838.07 391.72,838.21 390.79,838.34 389.85,838.46 388.9,838.56 387.95,838.65 386.99,838.73 386.02,838.8 385.05,838.85 384.09,838.89 383.12,838.92 382.15,838.94 381.18,838.94 380.22,838.94 379.26,838.92 378.3,838.88 377.36,838.84 376.42,838.78 375.49,838.71 374.57,838.63 373.66,838.53 372.76,838.42 371.88,838.31 371.01,838.18 370.16,838.03 369.32,837.88 368.51,837.72 367.71,837.54 366.93,837.35 366.17,837.16 365.43,836.95 364.72,836.73 364.03,836.5 363.37,836.27 362.73,836.02 362.11,835.77 361.52,835.5 360.96,835.23 360.43,834.95 359.93,834.67 359.46,834.37 359.01,834.07 358.6,833.77 358.22,833.45 357.86,833.13 357.54,832.81 357.26,832.48 357,832.15 356.78,831.81 356.59,831.47 356.44,831.13 356.31,830.78 356.23,830.43 356.17,830.08 356.15,829.73" fill="none" stroke="#303030" stroke-width="1.2"/>
<polygon points="391.2,435.56 392.01,435.39 392.8,435.22 393.57,435.04 394.31,434.86 395.04,434.66 395.73,434.47 396.4,434.27 397.04,434.06 397.66,433.85 398.25,433.63 398.81,433.41 399.34,433.19 399.83,432.96 400.3,432.72 400.74,432.49 401.15,432.25 401.52,432.01 401.86,431.76 402.17,431.52 402.44,431.27 402.68,431.02 402.89,430.77 403.06,430.52 403.2,430.27 403.3,430.02 403.37,429.76 403.4,429.51 403.4,429.26 403.36,429.01 403.29,428.76 403.19,428.52 403.05,428.27 402.88,428.03 402.67,427.79 402.43,427.55 402.16,427.31 401.85,427.08 401.51,426.85 401.14,426.63 400.73,426.41 400.3,426.19 399.84,425.98 399.34,425.78 398.82,425.58 398.26,425.38 397.68,425.19 397.07,425.01 396.44,424.83 395.78,424.66 395.09,424.49 394.38,424.33 393.65,424.18 392.89,424.04 392.12,423.9 391.32,423.77 390.5,423.65 389.66,423.53 388.81,423.42 387.94,423.32 387.05,423.23 386.15,423.15 385.24,423.07 384.31,423.01 383.38,422.95 382.43,422.9 381.47,422.86 380.51,422.82 379.54,422.8 378.56,422.78 377.58,422.78 376.59,422.78 375.61,422.79 374.62,422.81 373.63,422.84 372.65,422.87 371.66,422.92 370.69,422.97 369.71,423.03 368.74,423.1 367.78,423.18 366.83,423.27 365.89,423.36 364.96,423.46 364.04,423.57 363.13,423.69 362.23,423.82 361.36,423.95 360.49,424.09 359.65,424.24 358.82,424.39 358.02,424.55 357.23,424.72 356.46,424.9 355.72,425.08 355,425.26 354.3,425.46 353.63,425.65 352.98,425.86 352.36,426.06 351.76,426.28 351.2,426.49 350.66,426.72 350.15,426.94 349.67,427.17 349.22,427.4 348.81,427.64 348.42,427.88 348.07,428.12 347.74,428.37 347.46,428.61 347.2,428.86 346.98,429.11 346.79,429.36 346.64,429.61 346.52,429.86 346.43,430.11 346.38,430.37 346.37,430.62 346.39,430.87 346.44,431.12 346.53,431.37 346.66,431.62 346.81,431.86 347.01,432.1 347.23,432.34 347.49,432.58 347.79,432.82 348.12,433.05 348.48,433.27 348.87,433.5 349.3,433.72 349.75,433.93 350.24,434.14 350.76,434.35 351.31,434.55 351.89,434.74 352.49,434.93 353.12,435.11 353.79,435.29 354.47,435.46 355.18,435.62 355.92,435.78 356.68,435.92 357.46,436.07 358.27,436.2 359.09,436.33 359.94,436.44 360.8,436.55 361.68,436.66 362.58,436.75 363.49,436.84 364.42,436.91 365.36,436.98 366.31,437.04 367.27,437.1 368.24,437.14 369.22,437.17 370.21,437.2 371.2,437.21 372.2,437.22 373.2,437.22 374.2,437.21 375.21,437.19 376.21,437.16 377.21,437.12 378.21,437.08 379.2,437.02 380.19,436.96 381.17,436.89 382.15,436.8 383.11,436.72 384.07,436.62 385.01,436.51 385.94,436.4 386.86,436.28 387.76,436.15 388.65,436.01 389.52,435.87 390.37,435.71" fill="#ffee00" stroke="#303030" stroke-width="1.2"/>
<polygon points="830.95,831.81 831.5,798.67 831.52,798.33 831.56,797.98 831.64,797.64 831.76,797.29 831.91,796.95 832.09,796.62 832.3,796.28 832.55,795.95 832.82,795.63 833.13,795.31 833.47,794.99 833.85,794.68 834.25,794.37 834.68,794.07 835.14,793.78 835.63,793.49 836.15,793.21 836.69,792.93 837.27,792.67 837.87,792.41 838.49,792.16 839.14,791.92 839.81,791.69 840.51,791.46 841.22,791.25 841.96,791.04 842.72,790.85 843.5,790.66 844.3,790.49 845.12,790.32 845.95,790.17 846.8,790.03 847.66,789.89 848.53,789.77 849.42,789.66 850.32,789.56 851.23,789.48 852.15,789.4 853.08,789.34 854.01,789.29 854.95,789.25 855.9,789.22 856.85,789.2 857.8,789.2 858.76,789.21 859.71,789.23 860.66,789.26 861.61,789.3 862.56,789.36 863.51,789.42 864.44,789.5 865.38,789.59 866.3,789.7 867.22,789.81 868.12,789.93 869.02,790.07 869.9,790.21 870.78,790.37 871.63,790.54 872.47,790.72 873.3,790.91 874.11,791.1 874.9,791.31 875.67,791.53 876.42,791.76 877.16,791.99 877.86,792.23 878.55,792.49 879.22,792.75 879.86,793.02 880.47,793.29 881.06,793.57 881.62,793.86 882.16,794.16 882.66,794.46 883.14,794.77 883.59,795.08 884.01,795.4 884.4,795.73 884.76,796.05 885.09,796.38 885.39,796.72 885.66,797.06 885.89,797.4 886.09,797.74 886.26,798.08 886.39,798.43 886.49,798.78 886.56,799.12 886.59,799.47 886.6,799.82 885.89,832.97 885.86,833.33 885.79,833.68 885.69,834.03 885.56,834.38 885.39,834.73 885.19,835.07 884.96,835.41 884.7,835.75 884.4,836.08 884.07,836.41 883.71,836.74 883.32,837.05 882.9,837.37 882.44,837.67 881.96,837.97 881.45,838.27 880.91,838.55 880.34,838.83 879.75,839.1 879.13,839.36 878.48,839.61 877.81,839.86 877.12,840.09 876.4,840.32 875.66,840.53 874.9,840.74 874.11,840.93 873.31,841.12 872.49,841.29 871.65,841.45 870.8,841.6 869.93,841.74 869.05,841.87 868.15,841.99 867.24,842.09 866.32,842.18 865.39,842.26 864.45,842.33 863.5,842.38 862.55,842.43 861.59,842.46 860.63,842.47 859.67,842.48 858.7,842.47 857.73,842.45 856.77,842.42 855.8,842.37 854.84,842.31 853.89,842.24 852.94,842.16 851.99,842.06 851.06,841.96 850.13,841.84 849.22,841.71 848.31,841.56 847.42,841.41 846.54,841.24 845.68,841.07 844.83,840.88 844,840.68 843.19,840.48 842.4,840.26 841.62,840.03 840.87,839.79 840.14,839.55 839.43,839.29 838.75,839.03 838.09,838.75 837.45,838.47 836.84,838.19 836.26,837.89 835.7,837.59 835.18,837.28 834.68,836.97 834.21,836.65 833.77,836.32 833.36,835.99 832.98,835.66 832.63,835.32 832.32,834.98 832.04,834.63 831.78,834.28 831.57,833.93 831.38,833.58 831.23,833.23 831.11,832.87 831.02,832.52 830.97,832.16" fill="#4400ff"/>
<polyline points="885.89,832.97 885.86,833.33 885.79,833.68 885.69,834.03 885.56,834.38 885.39,834.73 885.19,835.07 884.96,835.41 884.7,835.75 884.4,836.08 884.07,836.41 883.71,836.74 883.32,837.05 882.9,837.37 882.44,837.67 881.96,837.97 881.45,838.27 880.91,838.55 880.34,838.83 879.75,839.1 879.13,839.36 878.48,839.61 877.81,839.86 877.12,840.09 876.4,840.32 875.66,840.53 874.9,840.74 874.11,840.93 873.31,841.12 872.49,841.29 871.65,841.45 870.8,841.6 869.93,841.74 869.05,841.87 868.15,841.99 867.24,842.09 866.32,842.18 865.39,842.26 864.45,842.33 863.5,842.38 862.55,842.43 861.59,842.46 860.63,842.47 859.67,842.48 858.7,842.47 857.73,842.45 856.77,842.42 855.8,842.37 854.84,842.31 853.89,842.24 852.94,842.16 851.99,842.06 851.06,841.96 850.13,841.84 849.22,841.71 848.31,841.56 847.42,841.41 846.54,841.24 845.68,841.07 844.83,840.88 844,840.68 843.19,840.48 842.4,840.26 841.62,840.03 840.87,839.79 840.14,839.55 839.43,839.29 838.75,839.03 838.09,838.75 837.45,838.47 836.84,838.19 836.26,837.89 835.7,837.59 835.18,837.28 834.68,836.97 834.21,836.65 833.77,836.32 833.36,835.99 832.98,835.66 832.63,835.32 832.32,834.98 832.04,834.63 831.78,834.28 831.57,833.93 831.38,833.58 831.23,833.23 831.11,832.87 831.02,832.52 830.97,832.16 830.95,831.81" fill="none" stroke="#303030" stroke-width="1.2"/>
<polygon points="877.8,806.77 878.5,806.54 879.17,806.31 879.82,806.06 880.44,805.8 881.04,805.54 881.61,805.27 882.15,804.99 882.66,804.7 883.14,804.41 883.6,804.11 884.02,803.81 884.41,803.5 884.77,803.18 885.1,802.86 885.4,802.53 885.67,802.2 885.9,801.87 886.1,801.53 886.26,801.19 886.4,800.85 886.5,800.51 886.56,800.16 886.6,799.82 886.59,799.47 886.56,799.12 886.49,798.78 886.39,798.43 886.26,798.08 886.09,797.74 885.89,797.4 885.66,797.06 885.39,796.72 885.09,796.38 884.76,796.05 884.4,795.73 884.01,795.4 883.59,795.08 883.14,794.77 882.66,794.46 882.16,794.16 881.62,793.86 881.06,793.57 880.47,793.29 879.86,793.02 879.22,792.75 878.55,792.49 877.86,792.23 877.16,791.99 876.42,791.76 875.67,791.53 874.9,791.31 874.11,791.1 873.3,790.91 872.47,790.72 871.63,790.54 870.78,790.37 869.9,790.21 869.02,790.07 868.12,789.93 867.22,789.81 866.3,789.7 865.38,789.59 864.44,789.5 863.51,789.42 862.56,789.36 861.61,789.3 860.66,789.26 859.71,789.23 858.76,789.21 857.8,789.2 856.85,789.2 855.9,789.22 854.95,789.25 854.01,789.29 853.08,789.34 852.15,789.4 851.23,789.48 850.32,789.56 849.42,789.66 848.53,789.77 847.66,789.89 846.8,790.03 845.95,790.17 845.12,790.32 844.3,790.49 843.5,790.66 842.72,790.85 841.96,791.04 841.22,791.25 840.51,791.46 839.81,791.69 839.14,791.92 838.49,792.16 837.87,792.41 837.27,792.67 836.69,792.93 836.15,793.21 835.63,793.49 835.14,793.78 834.68,794.07 834.25,794.37 833.85,794.68 833.47,794.99 833.13,795.31 832.82,795.63 832.55,795.95 832.3,796.28 832.09,796.62 831.91,796.95 831.76,797.29 831.64,797.64 831.56,797.98 831.52,798.33 831.5,798.67 831.52,799.02 831.57,799.37 831.66,799.71 831.78,800.06 831.93,800.41 832.12,800.75 832.34,801.09 832.59,801.43 832.87,801.77 833.19,802.1 833.54,802.44 833.92,802.76 834.33,803.08 834.77,803.4 835.24,803.71 835.74,804.02 836.27,804.32 836.83,804.62 837.41,804.91 838.02,805.19 838.66,805.46 839.32,805.73 840.01,805.98 840.72,806.23 841.45,806.48 842.21,806.71 842.98,806.93 843.78,807.14 844.59,807.35 845.43,807.54 846.28,807.72 847.14,807.9 848.02,808.06 848.92,808.21 849.82,808.35 850.74,808.47 851.67,808.59 852.61,808.7 853.55,808.79 854.51,808.87 855.47,808.94 856.43,809 857.4,809.04 858.36,809.07 859.33,809.09 860.3,809.1 861.27,809.1 862.23,809.08 863.19,809.05 864.15,809.01 865.1,808.96 866.04,808.89 866.97,808.81 867.9,808.72 868.81,808.62 869.71,808.51 870.6,808.39 871.47,808.25 872.32,808.1 873.16,807.94 873.99,807.77 874.79,807.59 875.58,807.4 876.34,807.2 877.08,806.99" fill="#4400ff" stroke="#303030" stroke-width="1.2"/>
<polygon points="414.4,766.93 414.43,766.59 414.49,766.24 414.59,765.89 414.73,765.54 414.89,765.2 415.1,764.85 415.33,764.51 415.6,764.17 415.9,763.84 416.24,763.5 416.6,763.17 417,762.85 417.43,762.52 417.89,762.21 418.38,761.89 418.9,761.59 419.44,761.29 420.02,760.99 420.62,760.71 421.25,760.42 421.91,760.15 422.59,759.88 423.29,759.63 424.02,759.38 424.77,759.14 425.54,758.9 426.34,758.68 427.15,758.46 427.98,758.26 428.83,758.06 429.69,757.88 430.58,757.7 431.47,757.54 432.38,757.39 433.3,757.24 434.23,757.11 435.18,756.99 436.13,756.88 437.09,756.78 438.05,756.7 439.03,756.62 440,756.56 440.98,756.51 441.96,756.47 442.95,756.44 443.93,756.42 444.91,756.42 445.89,756.43 446.86,756.45 447.83,756.48 448.8,756.52 449.75,756.58 450.7,756.64 451.64,756.72 452.57,756.81 453.49,756.92 454.39,757.03 455.28,757.15 456.16,757.29 457.01,757.43 457.86,757.59 458.68,757.76 459.49,757.94 460.27,758.13 461.04,758.32 461.78,758.53 462.5,758.75 463.2,758.98 463.87,759.21 464.51,759.46 465.13,759.71 465.73,759.97 466.29,760.24 466.83,760.51 467.34,760.8 467.82,761.09 468.27,761.38 468.69,761.69 469.08,761.99 469.43,762.31 469.76,762.63 470.05,762.95 470.31,763.28 470.53,763.61 470.72,763.94 470.88,764.28 471,764.62 471.09,764.96 471.15,765.31 471.17,765.66 472.51,858.17 472.49,858.54 472.44,858.91 472.36,859.28 472.25,859.65 472.1,860.02 471.91,860.39 471.69,860.76 471.44,861.12 471.16,861.48 470.84,861.84 470.49,862.2 470.11,862.55 469.69,862.9 469.25,863.24 468.77,863.58 468.27,863.91 467.73,864.24 467.17,864.56 466.57,864.87 465.95,865.18 465.31,865.47 464.63,865.77 463.94,866.05 463.21,866.32 462.47,866.58 461.7,866.84 460.91,867.08 460.1,867.32 459.27,867.54 458.42,867.76 457.56,867.96 456.68,868.15 455.78,868.34 454.87,868.5 453.94,868.66 453.01,868.81 452.06,868.94 451.1,869.06 450.14,869.17 449.16,869.27 448.18,869.35 447.2,869.42 446.21,869.48 445.22,869.52 444.23,869.55 443.24,869.57 442.25,869.58 441.27,869.57 440.28,869.55 439.31,869.51 438.33,869.46 437.37,869.4 436.41,869.33 435.47,869.24 434.53,869.14 433.61,869.03 432.7,868.91 431.81,868.77 430.93,868.62 430.07,868.46 429.22,868.29 428.4,868.11 427.59,867.91 426.81,867.7 426.04,867.49 425.3,867.26 424.59,867.02 423.89,866.77 423.23,866.52 422.59,866.25 421.97,865.97 421.39,865.69 420.83,865.4 420.3,865.1 419.8,864.79 419.33,864.47 418.9,864.15 418.49,863.82 418.11,863.49 417.77,863.15 417.46,862.81 417.19,862.46 416.94,862.11 416.73,861.75 416.56,861.39 416.42,861.02 416.31,860.66 416.23,860.29 416.2,859.92 414.4,767.28" fill="#00ff00"/>
<polyline points="472.51,858.17 472.49,858.54 472.44,858.91 472.36,859.28 472.25,859.65 472.1,860.02 471.91,860.39 471.69,860.76 471.44,861.12 471.16,861.48 470.84,861.84 470.49,862.2 470.11,862.55 469.69,862.9 469.25,863.24 468.77,863.58 468.27,863.91 467.73,864.24 467.17,864.56 466.57,864.87 465.95,865.18 465.31,865.47 464.63,865.77 463.94,866.05 463.21,866.32 462.47,866.58 461.7,866.84 460.91,867.08 460.1,867.32 459.27,867.54 458.42,867.76 457.56,867.96 456.68,868.15 455.78,868.34 454.87,868.5 453.94,868.66 453.01,868.81 452.06,868.94 451.1,869.06 450.14,869.17 449.16,869.27 448.18,869.35 447.2,869.42 446.21,869.48 445.22,869.52 444.23,869.55 443.24,869.57 442.25,869.58 441.27,869.57 440.28,869.55 439.31,869.51 438.33,869.46 437.37,869.4 436.41,869.33 435.47,869.24 434.53,869.14 433.61,869.03 432.7,868.91 431.81,868.77 430.93,868.62 430.07,868.46 429.22,868.29 428.4,868.11 427.59,867.91 426.81,867.7 426.04,867.49 425.3,867.26 424.59,867.02 423.89,866.77 423.23,866.52 422.59,866.25 421.97,865.97 421.39,865.69 420.83,865.4 420.3,865.1 419.8,864.79 419.33,864.47 418.9,864.15 418.49,863.82 418.11,863.49 417.77,863.15 417.46,862.81 417.19,862.46 416.94,862.11 416.73,861.75 416.56,861.39 416.42,861.02 416.31,860.66 416.23,860.29 416.2,859.92" fill="none" stroke="#303030" stroke-width="1.2"/>
<polygon points="459.47,774 460.27,773.78 461.04,773.54 461.79,773.29 462.52,773.03 463.22,772.77 463.9,772.5 464.55,772.22 465.18,771.93 465.78,771.64 466.35,771.34 466.89,771.04 467.4,770.72 467.88,770.41 468.33,770.09 468.74,769.76 469.13,769.43 469.48,769.1 469.8,768.76 470.09,768.42 470.34,768.08 470.56,767.74 470.75,767.39 470.9,767.04 471.02,766.7 471.1,766.35 471.15,766 471.17,765.66 471.15,765.31 471.09,764.96 471,764.62 470.88,764.28 470.72,763.94 470.53,763.61 470.31,763.28 470.05,762.95 469.76,762.63 469.43,762.31 469.08,761.99 468.69,761.69 468.27,761.38 467.82,761.09 467.34,760.8 466.83,760.51 466.29,760.24 465.73,759.97 465.13,759.71 464.51,759.46 463.87,759.21 463.2,758.98 462.5,758.75 461.78,758.53 461.04,758.32 460.27,758.13 459.49,757.94 458.68,757.76 457.86,757.59 457.01,757.43 456.16,757.29 455.28,757.15 454.39,757.03 453.49,756.92 452.57,756.81 451.64,756.72 450.7,756.64 449.75,756.58 448.8,756.52 447.83,756.48 446.86,756.45 445.89,756.43 444.91,756.42 443.93,756.42 442.95,756.44 441.96,756.47 440.98,756.51 440,756.56 439.03,756.62 438.05,756.7 437.09,756.78 436.13,756.88 435.18,756.99 434.23,757.11 433.3,757.24 432.38,757.39 431.47,757.54 430.58,757.7 429.69,757.88 428.83,758.06 427.98,758.26 427.15,758.46 426.34,758.68 425.54,758.9 424.77,759.14 424.02,759.38 423.29,759.63 422.59,759.88 421.91,760.15 421.25,760.42 420.62,760.71 420.02,760.99 419.44,761.29 418.9,761.59 418.38,761.89 417.89,762.21 417.43,762.52 417,762.85 416.6,763.17 416.24,763.5 415.9,763.84 415.6,764.17 415.33,764.51 415.1,764.85 414.89,765.2 414.73,765.54 414.59,765.89 414.49,766.24 414.43,766.59 414.4,766.93 414.4,767.28 414.44,767.63 414.51,767.97 414.62,768.31 414.76,768.65 414.94,768.99 415.15,769.33 415.4,769.66 415.67,769.98 415.99,770.31 416.33,770.62 416.71,770.94 417.12,771.24 417.56,771.55 418.03,771.84 418.53,772.13 419.07,772.41 419.63,772.69 420.22,772.95 420.84,773.21 421.48,773.46 422.15,773.7 422.85,773.93 423.57,774.16 424.32,774.37 425.09,774.57 425.88,774.77 426.69,774.95 427.52,775.12 428.37,775.28 429.24,775.44 430.13,775.58 431.03,775.7 431.95,775.82 432.88,775.93 433.82,776.02 434.77,776.1 435.73,776.17 436.71,776.23 437.69,776.27 438.67,776.3 439.66,776.32 440.66,776.33 441.65,776.33 442.65,776.31 443.65,776.28 444.65,776.24 445.65,776.19 446.64,776.12 447.62,776.05 448.6,775.96 449.58,775.85 450.54,775.74 451.5,775.62 452.44,775.48 453.38,775.33 454.29,775.18 455.2,775.01 456.09,774.83 456.96,774.64 457.82,774.44 458.65,774.22" fill="#00ff00" stroke="#303030" stroke-width="1.2"/>
<polygon points="902.08,861.67 902.55,841.11 902.58,840.75 902.64,840.38 902.74,840.02 902.87,839.66 903.03,839.31 903.23,838.95 903.46,838.6 903.73,838.26 904.03,837.92 904.36,837.58 904.72,837.25 905.11,836.93 905.53,836.61 905.99,836.3 906.47,836 906.99,835.7 907.53,835.41 908.1,835.13 908.69,834.86 909.32,834.59 909.97,834.34 910.64,834.09 911.34,833.85 912.06,833.63 912.8,833.41 913.57,833.2 914.35,833.01 915.16,832.82 915.98,832.65 916.82,832.49 917.68,832.33 918.55,832.19 919.44,832.07 920.34,831.95 921.25,831.85 922.18,831.75 923.11,831.67 924.06,831.61 925.01,831.55 925.97,831.51 926.93,831.48 927.9,831.46 928.88,831.46 929.85,831.47 930.83,831.49 931.8,831.52 932.78,831.57 933.75,831.62 934.72,831.7 935.68,831.78 936.64,831.87 937.59,831.98 938.53,832.1 939.47,832.23 940.39,832.38 941.3,832.53 942.2,832.7 943.09,832.87 943.96,833.06 944.81,833.26 945.65,833.47 946.47,833.69 947.27,833.92 948.06,834.16 948.82,834.41 949.56,834.66 950.27,834.93 950.97,835.21 951.64,835.49 952.28,835.78 952.9,836.08 953.49,836.39 954.06,836.7 954.59,837.02 955.1,837.34 955.58,837.68 956.03,838.01 956.45,838.35 956.83,838.7 957.19,839.05 957.51,839.4 957.8,839.76 958.06,840.12 958.29,840.48 958.48,840.85 958.64,841.21 958.76,841.58 958.85,841.95 958.91,842.31 958.93,842.68 958.36,863.26 958.35,863.63 958.3,864 958.22,864.37 958.1,864.74 957.95,865.1 957.77,865.46 957.55,865.82 957.3,866.17 957.01,866.52 956.7,866.87 956.35,867.21 955.96,867.54 955.55,867.87 955.11,868.19 954.63,868.5 954.12,868.81 953.59,869.11 953.02,869.4 952.43,869.68 951.81,869.96 951.17,870.22 950.49,870.48 949.8,870.72 949.07,870.96 948.33,871.19 947.56,871.4 946.77,871.6 945.96,871.8 945.13,871.98 944.28,872.15 943.42,872.31 942.54,872.45 941.64,872.59 940.73,872.71 939.8,872.82 938.87,872.91 937.92,873 936.96,873.07 936,873.13 935.02,873.17 934.05,873.2 933.06,873.22 932.07,873.22 931.09,873.22 930.1,873.19 929.11,873.16 928.12,873.11 927.13,873.05 926.15,872.98 925.17,872.89 924.2,872.79 923.24,872.68 922.28,872.55 921.34,872.42 920.41,872.27 919.48,872.11 918.58,871.93 917.68,871.75 916.81,871.55 915.94,871.35 915.1,871.13 914.28,870.9 913.47,870.66 912.69,870.41 911.93,870.15 911.19,869.89 910.47,869.61 909.78,869.32 909.11,869.03 908.47,868.73 907.86,868.42 907.28,868.1 906.72,867.78 906.19,867.45 905.69,867.12 905.22,866.78 904.79,866.43 904.38,866.08 904.01,865.73 903.66,865.37 903.35,865.01 903.08,864.64 902.83,864.27 902.63,863.91 902.45,863.53 902.31,863.16 902.2,862.79 902.12,862.42 902.09,862.05" fill="#aa00ff"/>
<polyline points="958.36,863.26 958.35,863.63 958.3,864 958.22,864.37 958.1,864.74 957.95,865.1 957.77,865.46 957.55,865.82 957.3,866.17 957.01,866.52 956.7,866.87 956.35,867.21 955.96,867.54 955.55,867.87 955.11,868.19 954.63,868.5 954.12,868.81 953.59,869.11 953.02,869.4 952.43,869.68 951.81,869.96 951.17,870.22 950.49,870.48 949.8,870.72 949.07,870.96 948.33,871.19 947.56,871.4 946.77,871.6 945.96,871.8 945.13,871.98 944.28,872.15 943.42,872.31 942.54,872.45 941.64,872.59 940.73,872.71 939.8,872.82 938.87,872.91 937.92,873 936.96,873.07 936,873.13 935.02,873.17 934.05,873.2 933.06,873.22 932.07,873.22 931.09,873.22 930.1,873.19 929.11,873.16 928.12,873.11 927.13,873.05 926.15,872.98 925.17,872.89 924.2,872.79 923.24,872.68 922.28,872.55 921.34,872.42 920.41,872.27 919.48,872.11 918.58,871.93 917.68,871.75 916.81,871.55 915.94,871.35 915.1,871.13 914.28,870.9 913.47,870.66 912.69,870.41 911.93,870.15 911.19,869.89 910.47,869.61 909.78,869.32 909.11,869.03 908.47,868.73 907.86,868.42 907.28,868.1 906.72,867.78 906.19,867.45 905.69,867.12 905.22,866.78 904.79,866.43 904.38,866.08 904.01,865.73 903.66,865.37 903.35,865.01 903.08,864.64 902.83,864.27 902.63,863.91 902.45,863.53 902.31,863.16 902.2,862.79 902.12,862.42 902.09,862.05 902.08,861.67" fill="none" stroke="#303030" stroke-width="1.2"/>
<polygon points="950.35,850.04 951.05,849.8 951.73,849.54 952.37,849.28 952.99,849.01 953.59,848.73 954.15,848.44 954.69,848.15 955.2,847.85 955.67,847.54 956.12,847.22 956.53,846.9 956.91,846.57 957.26,846.23 957.58,845.9 957.87,845.55 958.12,845.2 958.34,844.85 958.52,844.49 958.67,844.14 958.79,843.77 958.87,843.41 958.92,843.05 958.93,842.68 958.91,842.31 958.85,841.95 958.76,841.58 958.64,841.21 958.48,840.85 958.29,840.48 958.06,840.12 957.8,839.76 957.51,839.4 957.19,839.05 956.83,838.7 956.45,838.35 956.03,838.01 955.58,837.68 955.1,837.34 954.59,837.02 954.06,836.7 953.49,836.39 952.9,836.08 952.28,835.78 951.64,835.49 950.97,835.21 950.27,834.93 949.56,834.66 948.82,834.41 948.06,834.16 947.27,833.92 946.47,833.69 945.65,833.47 944.81,833.26 943.96,833.06 943.09,832.87 942.2,832.7 941.3,832.53 940.39,832.38 939.47,832.23 938.53,832.1 937.59,831.98 936.64,831.87 935.68,831.78 934.72,831.7 933.75,831.62 932.78,831.57 931.8,831.52 930.83,831.49 929.85,831.47 928.88,831.46 927.9,831.46 926.93,831.48 925.97,831.51 925.01,831.55 924.06,831.61 923.11,831.67 922.18,831.75 921.25,831.85 920.34,831.95 919.44,832.07 918.55,832.19 917.68,832.33 916.82,832.49 915.98,832.65 915.16,832.82 914.35,833.01 913.57,833.2 912.8,833.41 912.06,833.63 911.34,833.85 910.64,834.09 909.97,834.34 909.32,834.59 908.69,834.86 908.1,835.13 907.53,835.41 906.99,835.7 906.47,836 905.99,836.3 905.53,836.61 905.11,836.93 904.72,837.25 904.36,837.58 904.03,837.92 903.73,838.26 903.46,838.6 903.23,838.95 903.03,839.31 902.87,839.66 902.74,840.02 902.64,840.38 902.58,840.75 902.55,841.11 902.55,841.48 902.59,841.84 902.67,842.21 902.78,842.58 902.92,842.95 903.1,843.31 903.31,843.67 903.55,844.04 903.83,844.4 904.14,844.75 904.48,845.11 904.86,845.46 905.26,845.8 905.7,846.14 906.17,846.48 906.67,846.81 907.2,847.13 907.76,847.45 908.34,847.76 908.96,848.07 909.6,848.37 910.27,848.66 910.96,848.94 911.68,849.21 912.42,849.47 913.18,849.73 913.96,849.97 914.77,850.21 915.6,850.43 916.44,850.65 917.3,850.85 918.18,851.05 919.08,851.23 919.99,851.4 920.91,851.56 921.85,851.71 922.79,851.84 923.75,851.96 924.71,852.07 925.69,852.17 926.66,852.26 927.65,852.33 928.64,852.39 929.63,852.44 930.62,852.47 931.61,852.49 932.6,852.5 933.59,852.5 934.58,852.48 935.56,852.45 936.53,852.41 937.5,852.35 938.46,852.28 939.4,852.2 940.34,852.1 941.27,852 942.18,851.88 943.08,851.74 943.96,851.6 944.83,851.44 945.68,851.28 946.51,851.1 947.32,850.91 948.11,850.71 948.88,850.49 949.63,850.27" fill="#aa00ff" stroke="#303030" stroke-width="1.2"/>
<polygon points="478.26,831.6 478.27,831.23 478.32,830.85 478.41,830.48 478.52,830.11 478.68,829.73 478.86,829.36 479.09,829 479.34,828.63 479.63,828.27 479.95,827.91 480.31,827.55 480.7,827.2 481.12,826.86 481.57,826.52 482.05,826.18 482.57,825.85 483.11,825.53 483.68,825.21 484.28,824.9 484.91,824.6 485.56,824.31 486.25,824.02 486.95,823.74 487.68,823.47 488.43,823.21 489.21,822.96 490.01,822.72 490.82,822.49 491.66,822.27 492.52,822.06 493.39,821.86 494.28,821.67 495.18,821.5 496.1,821.33 497.04,821.18 497.98,821.03 498.94,820.9 499.9,820.79 500.87,820.68 501.86,820.59 502.84,820.51 503.84,820.44 504.83,820.38 505.83,820.34 506.84,820.31 507.84,820.29 508.84,820.29 509.84,820.3 510.83,820.32 511.82,820.35 512.81,820.4 513.79,820.46 514.76,820.53 515.72,820.61 516.68,820.71 517.62,820.82 518.55,820.94 519.46,821.07 520.36,821.22 521.25,821.38 522.12,821.55 522.97,821.73 523.8,821.92 524.61,822.12 525.4,822.33 526.17,822.56 526.92,822.79 527.64,823.03 528.34,823.29 529.01,823.55 529.66,823.82 530.28,824.1 530.87,824.39 531.44,824.68 531.97,824.99 532.48,825.3 532.95,825.62 533.4,825.94 533.81,826.28 534.19,826.61 534.54,826.96 534.85,827.3 535.13,827.65 535.38,828.01 535.59,828.37 535.77,828.73 535.92,829.1 536.03,829.47 536.1,829.84 536.14,830.21 536.15,830.58 536.68,890.1 536.65,890.49 536.58,890.88 536.48,891.27 536.34,891.66 536.17,892.04 535.97,892.43 535.73,892.81 535.46,893.19 535.15,893.57 534.81,893.94 534.44,894.31 534.03,894.68 533.59,895.04 533.12,895.39 532.62,895.74 532.09,896.08 531.53,896.42 530.94,896.75 530.32,897.07 529.67,897.38 528.99,897.68 528.29,897.98 527.57,898.27 526.82,898.54 526.05,898.81 525.25,899.07 524.43,899.32 523.59,899.55 522.74,899.78 521.86,899.99 520.97,900.19 520.06,900.38 519.13,900.56 518.19,900.72 517.24,900.88 516.28,901.02 515.3,901.14 514.32,901.26 513.33,901.36 512.33,901.45 511.33,901.52 510.32,901.58 509.31,901.63 508.3,901.66 507.28,901.68 506.27,901.68 505.26,901.68 504.25,901.65 503.25,901.62 502.25,901.57 501.26,901.5 500.28,901.43 499.31,901.34 498.35,901.23 497.4,901.11 496.46,900.98 495.54,900.84 494.63,900.68 493.74,900.52 492.87,900.34 492.01,900.14 491.18,899.94 490.36,899.72 489.57,899.49 488.8,899.26 488.06,899.01 487.34,898.75 486.64,898.48 485.97,898.2 485.33,897.91 484.71,897.61 484.13,897.3 483.57,896.99 483.05,896.67 482.55,896.34 482.09,896 481.66,895.65 481.26,895.3 480.89,894.95 480.55,894.59 480.25,894.22 479.99,893.85 479.76,893.48 479.56,893.1 479.39,892.72 479.27,892.33 479.17,891.95 479.12,891.56 479.09,891.17" fill="#0080ff"/>
<polyline points="536.68,890.1 536.65,890.49 536.58,890.88 536.48,891.27 536.34,891.66 536.17,892.04 535.97,892.43 535.73,892.81 535.46,893.19 535.15,893.57 534.81,893.94 534.44,894.31 534.03,894.68 533.59,895.04 533.12,895.39 532.62,895.74 532.09,896.08 531.53,896.42 530.94,896.75 530.32,897.07 529.67,897.38 528.99,897.68 528.29,897.98 527.57,898.27 526.82,898.54 526.05,898.81 525.25,899.07 524.43,899.32 523.59,899.55 522.74,899.78 521.86,899.99 520.97,900.19 520.06,900.38 519.13,900.56 518.19,900.72 517.24,900.88 516.28,901.02 515.3,901.14 514.32,901.26 513.33,901.36 512.33,901.45 511.33,901.52 510.32,901.58 509.31,901.63 508.3,901.66 507.28,901.68 506.27,901.68 505.26,901.68 504.25,901.65 503.25,901.62 502.25,901.57 501.26,901.5 500.28,901.43 499.31,901.34 498.35,901.23 497.4,901.11 496.46,900.98 495.54,900.84 494.63,900.68 493.74,900.52 492.87,900.34 492.01,900.14 491.18,899.94 490.36,899.72 489.57,899.49 488.8,899.26 488.06,899.01 487.34,898.75 486.64,898.48 485.97,898.2 485.33,897.91 484.71,897.61 484.13,897.3 483.57,896.99 483.05,896.67 482.55,896.34 482.09,896 481.66,895.65 481.26,895.3 480.89,894.95 480.55,894.59 480.25,894.22 479.99,893.85 479.76,893.48 479.56,893.1 479.39,892.72 479.27,892.33 479.17,891.95 479.12,891.56 479.09,891.17" fill="none" stroke="#303030" stroke-width="1.2"/>
<polygon points="524.66,839.19 525.46,838.95 526.23,838.69 526.99,838.42 527.72,838.15 528.42,837.86 529.1,837.57 529.75,837.27 530.37,836.96 530.96,836.65 531.53,836.33 532.06,836 532.57,835.66 533.04,835.32 533.48,834.98 533.89,834.63 534.27,834.27 534.61,833.91 534.92,833.55 535.19,833.19 535.43,832.82 535.64,832.45 535.81,832.08 535.95,831.7 536.05,831.33 536.11,830.96 536.15,830.58 536.14,830.21 536.1,829.84 536.03,829.47 535.92,829.1 535.77,828.73 535.59,828.37 535.38,828.01 535.13,827.65 534.85,827.3 534.54,826.96 534.19,826.61 533.81,826.28 533.4,825.94 532.95,825.62 532.48,825.3 531.97,824.99 531.44,824.68 530.87,824.39 530.28,824.1 529.66,823.82 529.01,823.55 528.34,823.29 527.64,823.03 526.92,822.79 526.17,822.56 525.4,822.33 524.61,822.12 523.8,821.92 522.97,821.73 522.12,821.55 521.25,821.38 520.36,821.22 519.46,821.07 518.55,820.94 517.62,820.82 516.68,820.71 515.72,820.61 514.76,820.53 513.79,820.46 512.81,820.4 511.82,820.35 510.83,820.32 509.84,820.3 508.84,820.29 507.84,820.29 506.84,820.31 505.83,820.34 504.83,820.38 503.84,820.44 502.84,820.51 501.86,820.59 500.87,820.68 499.9,820.79 498.94,820.9 497.98,821.03 497.04,821.18 496.1,821.33 495.18,821.5 494.28,821.67 493.39,821.86 492.52,822.06 491.66,822.27 490.82,822.49 490.01,822.72 489.21,822.96 488.43,823.21 487.68,823.47 486.95,823.74 486.25,824.02 485.56,824.31 484.91,824.6 484.28,824.9 483.68,825.21 483.11,825.53 482.57,825.85 482.05,826.18 481.57,826.52 481.12,826.86 480.7,827.2 480.31,827.55 479.95,827.91 479.63,828.27 479.34,828.63 479.09,829 478.86,829.36 478.68,829.73 478.52,830.11 478.41,830.48 478.32,830.85 478.27,831.23 478.26,831.6 478.28,831.97 478.34,832.34 478.44,832.71 478.56,833.08 478.73,833.45 478.93,833.81 479.16,834.17 479.43,834.53 479.73,834.88 480.06,835.23 480.43,835.57 480.84,835.9 481.27,836.23 481.74,836.56 482.23,836.88 482.76,837.19 483.32,837.49 483.91,837.78 484.53,838.07 485.17,838.35 485.84,838.62 486.54,838.88 487.27,839.13 488.02,839.36 488.79,839.59 489.59,839.81 490.4,840.02 491.24,840.22 492.1,840.4 492.98,840.58 493.87,840.74 494.79,840.89 495.71,841.03 496.65,841.15 497.61,841.26 498.58,841.37 499.55,841.45 500.54,841.53 501.54,841.59 502.54,841.64 503.55,841.67 504.56,841.69 505.57,841.7 506.59,841.7 507.61,841.68 508.63,841.65 509.65,841.6 510.66,841.54 511.67,841.47 512.67,841.39 513.67,841.29 514.66,841.18 515.64,841.06 516.6,840.93 517.56,840.78 518.51,840.62 519.44,840.45 520.35,840.27 521.25,840.08 522.13,839.87 522.99,839.66 523.83,839.43" fill="#0080ff" stroke="#303030" stroke-width="1.2"/>
<polygon points="976.6,893.34 976.6,892.95 976.66,890.85 976.71,890.46 976.79,890.08 976.9,889.7 977.05,889.32 977.23,888.94 977.45,888.57 977.7,888.21 977.98,887.84 978.3,887.49 978.65,887.14 979.03,886.79 979.44,886.46 979.89,886.13 980.37,885.8 980.87,885.49 981.41,885.18 981.98,884.88 982.57,884.59 983.19,884.31 983.84,884.04 984.51,883.78 985.21,883.53 985.93,883.28 986.68,883.05 987.45,882.84 988.24,882.63 989.05,882.43 989.88,882.25 990.73,882.07 991.6,881.91 992.49,881.76 993.39,881.63 994.3,881.5 995.23,881.39 996.17,881.3 997.12,881.21 998.08,881.14 999.05,881.08 1000.03,881.04 1001.01,881 1002,880.99 1002.99,880.98 1003.99,880.99 1004.99,881.01 1005.99,881.05 1006.99,881.09 1007.98,881.16 1008.98,881.23 1009.97,881.32 1010.95,881.42 1011.93,881.53 1012.9,881.66 1013.86,881.8 1014.81,881.95 1015.75,882.12 1016.68,882.29 1017.6,882.48 1018.5,882.68 1019.38,882.89 1020.25,883.11 1021.11,883.34 1021.94,883.59 1022.75,883.84 1023.54,884.11 1024.32,884.38 1025.06,884.66 1025.79,884.96 1026.49,885.26 1027.17,885.57 1027.82,885.88 1028.44,886.21 1029.03,886.54 1029.6,886.88 1030.14,887.23 1030.65,887.58 1031.13,887.93 1031.58,888.3 1031.99,888.66 1032.38,889.04 1032.73,889.41 1033.05,889.79 1033.33,890.17 1033.58,890.56 1033.8,890.94 1033.98,891.33 1034.13,891.72 1034.25,892.11 1034.33,892.5 1034.37,892.89 1034.38,893.28 1034.31,895.39 1034.28,895.78 1034.22,896.16 1034.12,896.55 1033.99,896.93 1033.82,897.31 1033.62,897.68 1033.39,898.05 1033.12,898.42 1032.81,898.78 1032.47,899.14 1032.1,899.49 1031.7,899.83 1031.26,900.17 1030.79,900.5 1030.29,900.82 1029.76,901.13 1029.2,901.44 1028.61,901.74 1027.99,902.02 1027.35,902.3 1026.67,902.57 1025.97,902.83 1025.25,903.08 1024.5,903.31 1023.73,903.54 1022.93,903.75 1022.11,903.96 1021.27,904.15 1020.41,904.33 1019.54,904.49 1018.64,904.64 1017.73,904.79 1016.81,904.91 1015.87,905.03 1014.91,905.13 1013.95,905.22 1012.97,905.29 1011.99,905.35 1010.99,905.4 1009.99,905.43 1008.99,905.45 1007.98,905.45 1006.97,905.45 1005.95,905.42 1004.93,905.39 1003.92,905.34 1002.91,905.27 1001.9,905.2 1000.89,905.11 999.89,905 998.9,904.88 997.91,904.75 996.94,904.61 995.98,904.45 995.02,904.28 994.08,904.1 993.16,903.91 992.25,903.7 991.35,903.49 990.48,903.26 989.62,903.02 988.78,902.77 987.97,902.51 987.17,902.24 986.4,901.95 985.65,901.66 984.92,901.37 984.23,901.06 983.55,900.74 982.91,900.42 982.29,900.09 981.7,899.75 981.14,899.4 980.61,899.05 980.11,898.69 979.64,898.33 979.21,897.96 978.8,897.59 978.43,897.22 978.09,896.84 977.79,896.45 977.52,896.07 977.28,895.68 977.08,895.29 976.91,894.9 976.78,894.51 976.68,894.12 976.62,893.73" fill="#ff0000"/>
<polyline points="1034.31,895.39 1034.28,895.78 1034.22,896.16 1034.12,896.55 1033.99,896.93 1033.82,897.31 1033.62,897.68 1033.39,898.05 1033.12,898.42 1032.81,898.78 1032.47,899.14 1032.1,899.49 1031.7,899.83 1031.26,900.17 1030.79,900.5 1030.29,900.82 1029.76,901.13 1029.2,901.44 1028.61,901.74 1027.99,902.02 1027.35,902.3 1026.67,902.57 1025.97,902.83 1025.25,903.08 1024.5,903.31 1023.73,903.54 1022.93,903.75 1022.11,903.96 1021.27,904.15 1020.41,904.33 1019.54,904.49 1018.64,904.64 1017.73,904.79 1016.81,904.91 1015.87,905.03 1014.91,905.13 1013.95,905.22 1012.97,905.29 1011.99,905.35 1010.99,905.4 1009.99,905.43 1008.99,905.45 1007.98,905.45 1006.97,905.45 1005.95,905.42 1004.93,905.39 1003.92,905.34 1002.91,905.27 1001.9,905.2 1000.89,905.11 999.89,905 998.9,904.88 997.91,904.75 996.94,904.61 995.98,904.45 995.02,904.28 994.08,904.1 993.16,903.91 992.25,903.7 991.35,903.49 990.48,903.26 989.62,903.02 988.78,902.77 987.97,902.51 987.17,902.24 986.4,901.95 985.65,901.66 984.92,901.37 984.23,901.06 983.55,900.74 982.91,900.42 982.29,900.09 981.7,899.75 981.14,899.4 980.61,899.05 980.11,898.69 979.64,898.33 979.21,897.96 978.8,897.59 978.43,897.22 978.09,896.84 977.79,896.45 977.52,896.07 977.28,895.68 977.08,895.29 976.91,894.9 976.78,894.51 976.68,894.12 976.62,893.73 976.6,893.34 976.6,892.95" fill="none" stroke="#303030" stroke-width="1.2"/>
<polygon points="1026.05,900.71 1026.75,900.45 1027.42,900.18 1028.07,899.9 1028.68,899.62 1029.27,899.32 1029.83,899.02 1030.36,898.7 1030.86,898.38 1031.33,898.05 1031.77,897.71 1032.17,897.37 1032.54,897.02 1032.88,896.67 1033.19,896.31 1033.46,895.94 1033.69,895.57 1033.9,895.2 1034.06,894.82 1034.19,894.44 1034.29,894.05 1034.35,893.67 1034.38,893.28 1034.37,892.89 1034.33,892.5 1034.25,892.11 1034.13,891.72 1033.98,891.33 1033.8,890.94 1033.58,890.56 1033.33,890.17 1033.05,889.79 1032.73,889.41 1032.38,889.04 1031.99,888.66 1031.58,888.3 1031.13,887.93 1030.65,887.58 1030.14,887.23 1029.6,886.88 1029.03,886.54 1028.44,886.21 1027.82,885.88 1027.17,885.57 1026.49,885.26 1025.79,884.96 1025.06,884.66 1024.32,884.38 1023.54,884.11 1022.75,883.84 1021.94,883.59 1021.11,883.34 1020.25,883.11 1019.38,882.89 1018.5,882.68 1017.6,882.48 1016.68,882.29 1015.75,882.12 1014.81,881.95 1013.86,881.8 1012.9,881.66 1011.93,881.53 1010.95,881.42 1009.97,881.32 1008.98,881.23 1007.98,881.16 1006.99,881.09 1005.99,881.05 1004.99,881.01 1003.99,880.99 1002.99,880.98 1002,880.99 1001.01,881 1000.03,881.04 999.05,881.08 998.08,881.14 997.12,881.21 996.17,881.3 995.23,881.39 994.3,881.5 993.39,881.63 992.49,881.76 991.6,881.91 990.73,882.07 989.88,882.25 989.05,882.43 988.24,882.63 987.45,882.84 986.68,883.05 985.93,883.28 985.21,883.53 984.51,883.78 983.84,884.04 983.19,884.31 982.57,884.59 981.98,884.88 981.41,885.18 980.87,885.49 980.37,885.8 979.89,886.13 979.44,886.46 979.03,886.79 978.65,887.14 978.3,887.49 977.98,887.84 977.7,888.21 977.45,888.57 977.23,888.94 977.05,889.32 976.9,889.7 976.79,890.08 976.71,890.46 976.66,890.85 976.66,891.23 976.68,891.62 976.75,892.01 976.84,892.4 976.98,892.79 977.14,893.18 977.35,893.57 977.58,893.96 977.85,894.34 978.16,894.72 978.49,895.1 978.87,895.48 979.27,895.85 979.71,896.22 980.17,896.58 980.67,896.94 981.2,897.29 981.76,897.63 982.35,897.97 982.97,898.3 983.62,898.62 984.29,898.94 984.99,899.25 985.71,899.55 986.46,899.83 987.23,900.12 988.03,900.39 988.85,900.65 989.69,900.9 990.54,901.14 991.42,901.36 992.31,901.58 993.22,901.79 994.15,901.98 995.09,902.16 996.04,902.33 997.01,902.49 997.98,902.63 998.97,902.76 999.96,902.88 1000.96,902.98 1001.96,903.07 1002.97,903.15 1003.99,903.21 1005,903.26 1006.02,903.3 1007.03,903.32 1008.05,903.33 1009.06,903.32 1010.06,903.31 1011.06,903.27 1012.06,903.23 1013.04,903.17 1014.02,903.09 1014.98,903 1015.94,902.9 1016.88,902.79 1017.8,902.66 1018.71,902.52 1019.61,902.37 1020.49,902.2 1021.34,902.02 1022.18,901.83 1023,901.63 1023.8,901.42 1024.57,901.19 1025.32,900.96" fill="#ff0000" stroke="#303030" stroke-width="1.2"/>
<polygon points="545.04,920.71 545.07,920.3 545.14,919.89 545.24,919.48 545.37,919.08 545.55,918.68 545.75,918.27 545.99,917.88 546.27,917.48 546.58,917.09 546.92,916.7 547.3,916.32 547.71,915.94 548.15,915.57 548.63,915.2 549.13,914.84 549.67,914.49 550.24,914.14 550.83,913.81 551.45,913.48 552.11,913.16 552.78,912.84 553.49,912.54 554.22,912.25 554.97,911.96 555.75,911.69 556.55,911.43 557.37,911.18 558.21,910.93 559.07,910.71 559.95,910.49 560.85,910.28 561.76,910.09 562.69,909.91 563.63,909.74 564.58,909.59 565.55,909.44 566.53,909.31 567.52,909.2 568.51,909.1 569.51,909.01 570.52,908.93 571.53,908.87 572.55,908.82 573.57,908.79 574.59,908.77 575.61,908.77 576.63,908.78 577.64,908.8 578.66,908.83 579.66,908.88 580.67,908.95 581.66,909.03 582.64,909.12 583.62,909.22 584.59,909.34 585.54,909.48 586.48,909.62 587.4,909.78 588.31,909.95 589.21,910.13 590.08,910.33 590.94,910.54 591.78,910.76 592.6,910.99 593.39,911.23 594.17,911.49 594.92,911.75 595.64,912.03 596.34,912.32 597.02,912.61 597.67,912.92 598.28,913.23 598.88,913.55 599.44,913.89 599.97,914.23 600.47,914.57 600.94,914.93 601.38,915.29 601.78,915.66 602.16,916.03 602.5,916.41 602.8,916.79 603.07,917.18 603.31,917.57 603.51,917.97 603.68,918.37 603.81,918.77 603.91,919.17 603.97,919.58 603.99,919.99 604,923.21 603.99,923.62 603.95,924.03 603.86,924.44 603.74,924.85 603.59,925.25 603.4,925.66 603.17,926.06 602.91,926.46 602.62,926.85 602.29,927.25 601.92,927.63 601.53,928.02 601.1,928.39 600.63,928.77 600.14,929.13 599.61,929.49 599.05,929.84 598.46,930.19 597.85,930.53 597.2,930.86 596.52,931.17 595.82,931.49 595.09,931.79 594.34,932.08 593.56,932.36 592.76,932.63 591.93,932.89 591.09,933.14 590.22,933.37 589.33,933.6 588.43,933.81 587.51,934.01 586.57,934.19 585.62,934.37 584.65,934.53 583.67,934.68 582.68,934.81 581.68,934.93 580.67,935.04 579.65,935.13 578.62,935.21 577.59,935.27 576.56,935.32 575.52,935.35 574.49,935.37 573.45,935.38 572.41,935.37 571.38,935.35 570.35,935.31 569.33,935.26 568.31,935.19 567.3,935.11 566.3,935.01 565.31,934.9 564.33,934.78 563.36,934.64 562.41,934.49 561.47,934.33 560.55,934.15 559.65,933.96 558.76,933.76 557.9,933.55 557.05,933.32 556.23,933.08 555.43,932.83 554.65,932.57 553.9,932.3 553.18,932.01 552.48,931.72 551.81,931.42 551.16,931.1 550.55,930.78 549.96,930.45 549.41,930.11 548.88,929.76 548.39,929.41 547.93,929.05 547.5,928.68 547.11,928.31 546.75,927.93 546.42,927.54 546.13,927.16 545.87,926.76 545.65,926.37 545.46,925.97 545.31,925.56 545.2,925.16 545.12,924.75 545.08,924.34 545.07,923.94" fill="#4400ff"/>
<polyline points="604,923.21 603.99,923.62 603.95,924.03 603.86,924.44 603.74,924.85 603.59,925.25 603.4,925.66 603.17,926.06 602.91,926.46 602.62,926.85 602.29,927.25 601.92,927.63 601.53,928.02 601.1,928.39 600.63,928.77 600.14,929.13 599.61,929.49 599.05,929.84 598.46,930.19 597.85,930.53 597.2,930.86 596.52,931.17 595.82,931.49 595.09,931.79 594.34,932.08 593.56,932.36 592.76,932.63 591.93,932.89 591.09,933.14 590.22,933.37 589.33,933.6 588.43,933.81 587.51,934.01 586.57,934.19 585.62,934.37 584.65,934.53 583.67,934.68 582.68,934.81 581.68,934.93 580.67,935.04 579.65,935.13 578.62,935.21 577.59,935.27 576.56,935.32 575.52,935.35 574.49,935.37 573.45,935.38 572.41,935.37 571.38,935.35 570.35,935.31 569.33,935.26 568.31,935.19 567.3,935.11 566.3,935.01 565.31,934.9 564.33,934.78 563.36,934.64 562.41,934.49 561.47,934.33 560.55,934.15 559.65,933.96 558.76,933.76 557.9,933.55 557.05,933.32 556.23,933.08 555.43,932.83 554.65,932.57 553.9,932.3 553.18,932.01 552.48,931.72 551.81,931.42 551.16,931.1 550.55,930.78 549.96,930.45 549.41,930.11 548.88,929.76 548.39,929.41 547.93,929.05 547.5,928.68 547.11,928.31 546.75,927.93 546.42,927.54 546.13,927.16 545.87,926.76 545.65,926.37 545.46,925.97 545.31,925.56 545.2,925.16 545.12,924.75 545.08,924.34 545.07,923.94" fill="none" stroke="#303030" stroke-width="1.2"/>
<polygon points="592.75,929.38 593.55,929.11 594.33,928.83 595.08,928.54 595.81,928.24 596.51,927.93 597.19,927.61 597.83,927.28 598.45,926.95 599.04,926.6 599.6,926.25 600.13,925.89 600.62,925.53 601.09,925.16 601.52,924.78 601.91,924.4 602.28,924.01 602.61,923.62 602.9,923.22 603.16,922.82 603.39,922.42 603.58,922.02 603.73,921.61 603.85,921.21 603.94,920.8 603.98,920.39 603.99,919.99 603.97,919.58 603.91,919.17 603.81,918.77 603.68,918.37 603.51,917.97 603.31,917.57 603.07,917.18 602.8,916.79 602.5,916.41 602.16,916.03 601.78,915.66 601.38,915.29 600.94,914.93 600.47,914.57 599.97,914.23 599.44,913.89 598.88,913.55 598.28,913.23 597.67,912.92 597.02,912.61 596.34,912.32 595.64,912.03 594.92,911.75 594.17,911.49 593.39,911.23 592.6,910.99 591.78,910.76 590.94,910.54 590.08,910.33 589.21,910.13 588.31,909.95 587.4,909.78 586.48,909.62 585.54,909.48 584.59,909.34 583.62,909.22 582.64,909.12 581.66,909.03 580.67,908.95 579.66,908.88 578.66,908.83 577.64,908.8 576.63,908.78 575.61,908.77 574.59,908.77 573.57,908.79 572.55,908.82 571.53,908.87 570.52,908.93 569.51,909.01 568.51,909.1 567.52,909.2 566.53,909.31 565.55,909.44 564.58,909.59 563.63,909.74 562.69,909.91 561.76,910.09 560.85,910.28 559.95,910.49 559.07,910.71 558.21,910.93 557.37,911.18 556.55,911.43 555.75,911.69 554.97,911.96 554.22,912.25 553.49,912.54 552.78,912.84 552.11,913.16 551.45,913.48 550.83,913.81 550.24,914.14 549.67,914.49 549.13,914.84 548.63,915.2 548.15,915.57 547.71,915.94 547.3,916.32 546.92,916.7 546.58,917.09 546.27,917.48 545.99,917.88 545.75,918.27 545.55,918.68 545.37,919.08 545.24,919.48 545.14,919.89 545.07,920.3 545.04,920.71 545.05,921.11 545.09,921.52 545.17,921.93 545.29,922.33 545.44,922.73 545.62,923.13 545.85,923.53 546.1,923.92 546.39,924.31 546.72,924.69 547.08,925.07 547.48,925.44 547.9,925.81 548.36,926.17 548.86,926.52 549.38,926.87 549.93,927.21 550.52,927.54 551.14,927.86 551.78,928.17 552.45,928.47 553.15,928.76 553.88,929.05 554.63,929.32 555.41,929.58 556.21,929.83 557.03,930.07 557.88,930.3 558.74,930.51 559.63,930.71 560.53,930.9 561.45,931.08 562.39,931.24 563.34,931.39 564.31,931.53 565.29,931.65 566.28,931.76 567.28,931.85 568.29,931.94 569.31,932 570.33,932.05 571.36,932.09 572.39,932.12 573.43,932.12 574.47,932.12 575.51,932.1 576.54,932.06 577.58,932.01 578.61,931.95 579.63,931.87 580.65,931.78 581.66,931.68 582.66,931.56 583.65,931.42 584.63,931.28 585.6,931.12 586.55,930.94 587.49,930.76 588.42,930.56 589.32,930.35 590.21,930.12 591.07,929.89 591.92,929.64" fill="#4400ff" stroke="#303030" stroke-width="1.2"/>
<polygon points="614.34,953.74 614.35,953.31 614.39,952.88 614.47,952.46 614.59,952.03 614.75,951.61 614.94,951.19 615.16,950.77 615.43,950.35 615.72,949.94 616.06,949.53 616.42,949.13 616.82,948.74 617.26,948.35 617.73,947.96 618.23,947.58 618.76,947.21 619.32,946.85 619.91,946.5 620.53,946.15 621.18,945.81 621.86,945.48 622.57,945.17 623.3,944.86 624.06,944.56 624.84,944.27 625.65,944 626.47,943.73 627.32,943.48 628.19,943.24 629.08,943.01 629.99,942.79 630.92,942.59 631.86,942.4 632.82,942.23 633.79,942.06 634.77,941.91 635.76,941.78 636.77,941.66 637.78,941.55 638.81,941.46 639.84,941.38 640.87,941.31 641.91,941.26 642.95,941.23 644,941.21 645.04,941.2 646.09,941.21 647.13,941.23 648.17,941.27 649.2,941.33 650.23,941.39 651.26,941.48 652.27,941.57 653.28,941.68 654.27,941.81 655.26,941.95 656.23,942.1 657.18,942.26 658.13,942.44 659.05,942.64 659.96,942.84 660.85,943.06 661.72,943.29 662.57,943.54 663.4,943.79 664.21,944.06 664.99,944.34 665.75,944.63 666.48,944.93 667.19,945.24 667.86,945.56 668.52,945.89 669.14,946.23 669.73,946.57 670.3,946.93 670.83,947.29 671.33,947.67 671.8,948.05 672.23,948.43 672.63,948.82 673,949.22 673.34,949.62 673.63,950.03 673.9,950.44 674.13,950.86 674.32,951.28 674.47,951.7 674.59,952.12 674.68,952.55 674.72,952.98 674.73,953.4 674.72,958.42 674.69,958.85 674.63,959.28 674.53,959.7 674.39,960.13 674.22,960.56 674.01,960.98 673.76,961.4 673.48,961.81 673.16,962.23 672.81,962.63 672.42,963.04 672,963.43 671.55,963.82 671.06,964.21 670.54,964.59 669.98,964.96 669.4,965.32 668.78,965.67 668.14,966.02 667.46,966.36 666.76,966.68 666.03,967 665.27,967.31 664.49,967.6 663.68,967.89 662.85,968.16 662,968.42 661.12,968.67 660.22,968.9 659.31,969.13 658.37,969.34 657.42,969.53 656.45,969.72 655.47,969.89 654.47,970.04 653.46,970.18 652.44,970.31 651.41,970.42 650.37,970.51 649.33,970.6 648.27,970.66 647.22,970.72 646.16,970.75 645.09,970.77 644.03,970.78 642.97,970.77 641.91,970.75 640.85,970.71 639.8,970.65 638.75,970.58 637.71,970.5 636.68,970.4 635.66,970.28 634.65,970.15 633.65,970.01 632.67,969.85 631.7,969.68 630.75,969.49 629.81,969.29 628.89,969.08 628,968.85 627.12,968.62 626.26,968.37 625.43,968.1 624.62,967.83 623.83,967.54 623.08,967.24 622.34,966.93 621.64,966.61 620.96,966.29 620.31,965.95 619.7,965.6 619.11,965.24 618.56,964.88 618.03,964.51 617.54,964.13 617.09,963.74 616.66,963.35 616.27,962.95 615.92,962.55 615.6,962.14 615.32,961.72 615.07,961.31 614.86,960.89 614.68,960.46 614.54,960.04 614.44,959.61 614.38,959.18 614.35,958.75" fill="#aa00ff"/>
<polyline points="674.72,958.42 674.69,958.85 674.63,959.28 674.53,959.7 674.39,960.13 674.22,960.56 674.01,960.98 673.76,961.4 673.48,961.81 673.16,962.23 672.81,962.63 672.42,963.04 672,963.43 671.55,963.82 671.06,964.21 670.54,964.59 669.98,964.96 669.4,965.32 668.78,965.67 668.14,966.02 667.46,966.36 666.76,966.68 666.03,967 665.27,967.31 664.49,967.6 663.68,967.89 662.85,968.16 662,968.42 661.12,968.67 660.22,968.9 659.31,969.13 658.37,969.34 657.42,969.53 656.45,969.72 655.47,969.89 654.47,970.04 653.46,970.18 652.44,970.31 651.41,970.42 650.37,970.51 649.33,970.6 648.27,970.66 647.22,970.72 646.16,970.75 645.09,970.77 644.03,970.78 642.97,970.77 641.91,970.75 640.85,970.71 639.8,970.65 638.75,970.58 637.71,970.5 636.68,970.4 635.66,970.28 634.65,970.15 633.65,970.01 632.67,969.85 631.7,969.68 630.75,969.49 629.81,969.29 628.89,969.08 628,968.85 627.12,968.62 626.26,968.37 625.43,968.1 624.62,967.83 623.83,967.54 623.08,967.24 622.34,966.93 621.64,966.61 620.96,966.29 620.31,965.95 619.7,965.6 619.11,965.24 618.56,964.88 618.03,964.51 617.54,964.13 617.09,963.74 616.66,963.35 616.27,962.95 615.92,962.55 615.6,962.14 615.32,961.72 615.07,961.31 614.86,960.89 614.68,960.46 614.54,960.04 614.44,959.61 614.38,959.18 614.35,958.75" fill="none" stroke="#303030" stroke-width="1.2"/>
<polygon points="663.69,962.84 664.5,962.56 665.28,962.27 666.04,961.96 666.77,961.64 667.48,961.32 668.15,960.98 668.8,960.64 669.41,960.29 670,959.92 670.55,959.56 671.07,959.18 671.56,958.8 672.02,958.41 672.44,958.01 672.83,957.61 673.18,957.2 673.5,956.79 673.78,956.38 674.02,955.96 674.23,955.54 674.41,955.11 674.54,954.69 674.64,954.26 674.71,953.83 674.73,953.4 674.72,952.98 674.68,952.55 674.59,952.12 674.47,951.7 674.32,951.28 674.13,950.86 673.9,950.44 673.63,950.03 673.34,949.62 673,949.22 672.63,948.82 672.23,948.43 671.8,948.05 671.33,947.67 670.83,947.29 670.3,946.93 669.73,946.57 669.14,946.23 668.52,945.89 667.86,945.56 667.19,945.24 666.48,944.93 665.75,944.63 664.99,944.34 664.21,944.06 663.4,943.79 662.57,943.54 661.72,943.29 660.85,943.06 659.96,942.84 659.05,942.64 658.13,942.44 657.18,942.26 656.23,942.1 655.26,941.95 654.27,941.81 653.28,941.68 652.27,941.57 651.26,941.48 650.23,941.39 649.2,941.33 648.17,941.27 647.13,941.23 646.09,941.21 645.04,941.2 644,941.21 642.95,941.23 641.91,941.26 640.87,941.31 639.84,941.38 638.81,941.46 637.78,941.55 636.77,941.66 635.76,941.78 634.77,941.91 633.79,942.06 632.82,942.23 631.86,942.4 630.92,942.59 629.99,942.79 629.08,943.01 628.19,943.24 627.32,943.48 626.47,943.73 625.65,944 624.84,944.27 624.06,944.56 623.3,944.86 622.57,945.17 621.86,945.48 621.18,945.81 620.53,946.15 619.91,946.5 619.32,946.85 618.76,947.21 618.23,947.58 617.73,947.96 617.26,948.35 616.82,948.74 616.42,949.13 616.06,949.53 615.72,949.94 615.43,950.35 615.16,950.77 614.94,951.19 614.75,951.61 614.59,952.03 614.47,952.46 614.39,952.88 614.35,953.31 614.34,953.74 614.37,954.17 614.43,954.59 614.53,955.02 614.67,955.44 614.85,955.87 615.06,956.28 615.31,956.7 615.59,957.11 615.91,957.52 616.26,957.92 616.65,958.32 617.08,958.71 617.53,959.1 618.02,959.47 618.55,959.85 619.1,960.21 619.69,960.56 620.31,960.91 620.95,961.25 621.63,961.58 622.34,961.89 623.07,962.2 623.83,962.5 624.61,962.78 625.42,963.06 626.26,963.32 627.11,963.57 627.99,963.81 628.89,964.03 629.81,964.25 630.74,964.45 631.7,964.63 632.67,964.8 633.65,964.96 634.65,965.1 635.66,965.23 636.68,965.35 637.71,965.44 638.75,965.53 639.8,965.6 640.85,965.65 641.91,965.69 642.97,965.72 644.03,965.73 645.1,965.72 646.16,965.7 647.22,965.66 648.28,965.61 649.33,965.55 650.38,965.46 651.42,965.37 652.45,965.26 653.47,965.13 654.48,964.99 655.47,964.84 656.46,964.67 657.43,964.49 658.38,964.29 659.31,964.08 660.23,963.86 661.13,963.62 662,963.38 662.86,963.12" fill="#aa00ff" stroke="#303030" stroke-width="1.2"/>
<polygon points="687.18,994.91 687.21,994.46 687.27,994.01 687.37,993.56 687.5,993.11 687.68,992.67 687.89,992.23 688.13,991.79 688.42,991.35 688.73,990.93 689.09,990.5 689.48,990.08 689.9,989.67 690.36,989.26 690.85,988.87 691.38,988.47 691.94,988.09 692.52,987.72 693.14,987.35 693.79,987 694.47,986.65 695.18,986.31 695.91,985.99 696.67,985.67 697.46,985.37 698.27,985.08 699.1,984.8 699.96,984.53 700.84,984.28 701.74,984.04 702.66,983.81 703.59,983.6 704.55,983.4 705.52,983.21 706.51,983.04 707.51,982.88 708.52,982.74 709.54,982.61 710.58,982.49 711.62,982.4 712.67,982.31 713.73,982.25 714.79,982.19 715.86,982.16 716.93,982.13 718,982.13 719.07,982.14 720.14,982.16 721.2,982.2 722.27,982.26 723.33,982.33 724.38,982.42 725.42,982.52 726.46,982.63 727.49,982.76 728.5,982.91 729.51,983.07 730.5,983.25 731.47,983.44 732.43,983.64 733.37,983.86 734.3,984.09 735.2,984.33 736.09,984.59 736.95,984.86 737.79,985.14 738.61,985.43 739.4,985.74 740.17,986.05 740.91,986.38 741.62,986.72 742.31,987.07 742.96,987.43 743.59,987.79 744.19,988.17 744.75,988.55 745.28,988.95 745.79,989.35 746.25,989.75 746.69,990.17 747.08,990.59 747.45,991.01 747.78,991.44 748.07,991.88 748.33,992.32 748.55,992.76 748.73,993.2 748.88,993.65 748.98,994.1 749.06,994.55 749.09,995 749.08,995.45 749.04,995.91 748.96,996.36 748.85,996.81 748.69,997.25 748.5,997.7 748.27,998.14 748,998.58 747.7,999.01 747.36,999.44 746.99,999.86 746.57,1000.28 746.13,1000.69 745.65,1001.1 745.13,1001.5 744.59,1001.89 744.01,1002.27 743.39,1002.64 742.75,1003.01 742.08,1003.36 741.37,1003.7 740.64,1004.04 739.88,1004.36 739.09,1004.67 738.28,1004.97 737.44,1005.26 736.58,1005.53 735.69,1005.79 734.79,1006.04 733.86,1006.28 732.91,1006.5 731.95,1006.71 730.96,1006.9 729.96,1007.08 728.95,1007.24 727.92,1007.39 726.88,1007.52 725.83,1007.64 724.77,1007.74 723.7,1007.83 722.63,1007.9 721.55,1007.95 720.46,1007.99 719.37,1008.01 718.28,1008.02 717.19,1008.01 716.1,1007.98 715.02,1007.94 713.93,1007.88 712.86,1007.81 711.79,1007.72 710.72,1007.62 709.67,1007.5 708.63,1007.36 707.6,1007.21 706.58,1007.04 705.57,1006.86 704.59,1006.67 703.62,1006.46 702.66,1006.23 701.73,1006 700.82,1005.74 699.93,1005.48 699.06,1005.2 698.21,1004.91 697.39,1004.61 696.6,1004.3 695.83,1003.97 695.09,1003.64 694.38,1003.29 693.7,1002.94 693.05,1002.57 692.43,1002.2 691.84,1001.81 691.28,1001.42 690.76,1001.02 690.27,1000.61 689.81,1000.2 689.39,999.78 689.01,999.36 688.66,998.93 688.35,998.49 688.07,998.05 687.83,997.61 687.63,997.16 687.46,996.72 687.34,996.27 687.25,995.82 687.2,995.36" fill="#ff0000"/>
<polygon points="738.28,1004.97 739.09,1004.67 739.88,1004.36 740.64,1004.04 741.37,1003.7 742.08,1003.36 742.75,1003.01 743.39,1002.64 744.01,1002.27 744.59,1001.89 745.13,1001.5 745.65,1001.1 746.13,1000.69 746.57,1000.28 746.99,999.86 747.36,999.44 747.7,999.01 748,998.58 748.27,998.14 748.5,997.7 748.69,997.25 748.85,996.81 748.96,996.36 749.04,995.91 749.08,995.45 749.09,995 749.06,994.55 748.98,994.1 748.88,993.65 748.73,993.2 748.55,992.76 748.33,992.32 748.07,991.88 747.78,991.44 747.45,991.01 747.08,990.59 746.69,990.17 746.25,989.75 745.79,989.35 745.28,988.95 744.75,988.55 744.19,988.17 743.59,987.79 742.96,987.43 742.31,987.07 741.62,986.72 740.91,986.38 740.17,986.05 739.4,985.74 738.61,985.43 737.79,985.14 736.95,984.86 736.09,984.59 735.2,984.33 734.3,984.09 733.37,983.86 732.43,983.64 731.47,983.44 730.5,983.25 729.51,983.07 728.5,982.91 727.49,982.76 726.46,982.63 725.42,982.52 724.38,982.42 723.33,982.33 722.27,982.26 721.2,982.2 720.14,982.16 719.07,982.14 718,982.13 716.93,982.13 715.86,982.16 714.79,982.19 713.73,982.25 712.67,982.31 711.62,982.4 710.58,982.49 709.54,982.61 708.52,982.74 707.51,982.88 706.51,983.04 705.52,983.21 704.55,983.4 703.59,983.6 702.66,983.81 701.74,984.04 700.84,984.28 699.96,984.53 699.1,984.8 698.27,985.08 697.46,985.37 696.67,985.67 695.91,985.99 695.18,986.31 694.47,986.65 693.79,987 693.14,987.35 692.52,987.72 691.94,988.09 691.38,988.47 690.85,988.87 690.36,989.26 689.9,989.67 689.48,990.08 689.09,990.5 688.73,990.93 688.42,991.35 688.13,991.79 687.89,992.23 687.68,992.67 687.5,993.11 687.37,993.56 687.27,994.01 687.21,994.46 687.18,994.91 687.2,995.36 687.25,995.82 687.34,996.27 687.46,996.72 687.63,997.16 687.83,997.61 688.07,998.05 688.35,998.49 688.66,998.93 689.01,999.36 689.39,999.78 689.81,1000.2 690.27,1000.61 690.76,1001.02 691.28,1001.42 691.84,1001.81 692.43,1002.2 693.05,1002.57 693.7,1002.94 694.38,1003.29 695.09,1003.64 695.83,1003.97 696.6,1004.3 697.39,1004.61 698.21,1004.91 699.06,1005.2 699.93,1005.48 700.82,1005.74 701.73,1006 702.66,1006.23 703.62,1006.46 704.59,1006.67 705.57,1006.86 706.58,1007.04 707.6,1007.21 708.63,1007.36 709.67,1007.5 710.72,1007.62 711.79,1007.72 712.86,1007.81 713.93,1007.88 715.02,1007.94 716.1,1007.98 717.19,1008.01 718.28,1008.02 719.37,1008.01 720.46,1007.99 721.55,1007.95 722.63,1007.9 723.7,1007.83 724.77,1007.74 725.83,1007.64 726.88,1007.52 727.92,1007.39 728.95,1007.24 729.96,1007.08 730.96,1006.9 731.95,1006.71 732.91,1006.5 733.86,1006.28 734.79,1006.04 735.69,1005.79 736.58,1005.53 737.44,1005.26" fill="#ff0000" stroke="#303030" stroke-width="1.2"/>
<clipPath id="clip652"><polygon points="738.28,1004.97 739.09,1004.67 739.88,1004.36 740.64,1004.04 741.37,1003.7 742.08,1003.36 742.75,1003.01 743.39,1002.64 744.01,1002.27 744.59,1001.89 745.13,1001.5 745.65,1001.1 746.13,1000.69 746.57,1000.28 746.99,999.86 747.36,999.44 747.7,999.01 748,998.58 748.27,998.14 748.5,997.7 748.69,997.25 748.85,996.81 748.96,996.36 749.04,995.91 749.08,995.45 749.09,995 749.06,994.55 748.98,994.1 748.88,993.65 748.73,993.2 748.55,992.76 748.33,992.32 748.07,991.88 747.78,991.44 747.45,991.01 747.08,990.59 746.69,990.17 746.25,989.75 745.79,989.35 745.28,988.95 744.75,988.55 744.19,988.17 743.59,987.79 742.96,987.43 742.31,987.07 741.62,986.72 740.91,986.38 740.17,986.05 739.4,985.74 738.61,985.43 737.79,985.14 736.95,984.86 736.09,984.59 735.2,984.33 734.3,984.09 733.37,983.86 732.43,983.64 731.47,983.44 730.5,983.25 729.51,983.07 728.5,982.91 727.49,982.76 726.46,982.63 725.42,982.52 724.38,982.42 723.33,982.33 722.27,982.26 721.2,982.2 720.14,982.16 719.07,982.14 718,982.13 716.93,982.13 715.86,982.16 714.79,982.19 713.73,982.25 712.67,982.31 711.62,982.4 710.58,982.49 709.54,982.61 708.52,982.74 707.51,982.88 706.51,983.04 705.52,983.21 704.55,983.4 703.59,983.6 702.66,983.81 701.74,984.04 700.84,984.28 699.96,984.53 699.1,984.8 698.27,985.08 697.46,985.37 696.67,985.67 695.91,985.99 695.18,986.31 694.47,986.65 693.79,987 693.14,987.35 692.52,987.72 691.94,988.09 691.38,988.47 690.85,988.87 690.36,989.26 689.9,989.67 689.48,990.08 689.09,990.5 688.73,990.93 688.42,991.35 688.13,991.79 687.89,992.23 687.68,992.67 687.5,993.11 687.37,993.56 687.27,994.01 687.21,994.46 687.18,994.91 687.2,995.36 687.25,995.82 687.34,996.27 687.46,996.72 687.63,997.16 687.83,997.61 688.07,998.05 688.35,998.49 688.66,998.93 689.01,999.36 689.39,999.78 689.81,1000.2 690.27,1000.61 690.76,1001.02 691.28,1001.42 691.84,1001.81 692.43,1002.2 693.05,1002.57 693.7,1002.94 694.38,1003.29 695.09,1003.64 695.83,1003.97 696.6,1004.3 697.39,1004.61 698.21,1004.91 699.06,1005.2 699.93,1005.48 700.82,1005.74 701.73,1006 702.66,1006.23 703.62,1006.46 704.59,1006.67 705.57,1006.86 706.58,1007.04 707.6,1007.21 708.63,1007.36 709.67,1007.5 710.72,1007.62 711.79,1007.72 712.86,1007.81 713.93,1007.88 715.02,1007.94 716.1,1007.98 717.19,1008.01 718.28,1008.02 719.37,1008.01 720.46,1007.99 721.55,1007.95 722.63,1007.9 723.7,1007.83 724.77,1007.74 725.83,1007.64 726.88,1007.52 727.92,1007.39 728.95,1007.24 729.96,1007.08 730.96,1006.9 731.95,1006.71 732.91,1006.5 733.86,1006.28 734.79,1006.04 735.69,1005.79 736.58,1005.53 737.44,1005.26"/></clipPath>
<g clip-path="url(#clip652)" stroke="#ff3535" stroke-width="0.9"><line x1="590.59" y1="1039.7" x2="1159.09" y2="840.27"/><line x1="297.79" y1="785.99" x2="756.38" y2="1013.97"/></g>
<line x1="177.76" y1="818.56" x2="149.4" y2="107.76" stroke="#000" stroke-width="2.7" stroke-linecap="square"/>
<polyline points="177.76,818.56 628.33,1059.92 1198.25,855.39" fill="none" stroke="#000" stroke-width="2.7" stroke-linejoin="miter"/>
<line x1="163.46" y1="818.96" x2="177.76" y2="818.96" stroke="#000" stroke-width="2.6" stroke-linecap="round"/>
<line x1="158.82" y1="706.26" x2="173.27" y2="706.26" stroke="#000" stroke-width="2.6" stroke-linecap="round"/>
<line x1="154.08" y1="591.35" x2="168.68" y2="591.35" stroke="#000" stroke-width="2.6" stroke-linecap="round"/>
<line x1="149.24" y1="474.15" x2="164.01" y2="474.15" stroke="#000" stroke-width="2.6" stroke-linecap="round"/>
<line x1="144.31" y1="354.6" x2="159.24" y2="354.6" stroke="#000" stroke-width="2.6" stroke-linecap="round"/>
<line x1="139.28" y1="232.63" x2="154.37" y2="232.63" stroke="#000" stroke-width="2.6" stroke-linecap="round"/>
<line x1="134.15" y1="108.16" x2="149.4" y2="108.16" stroke="#000" stroke-width="2.6" stroke-linecap="round"/>
<line x1="205.15" y1="833.23" x2="205.15" y2="846.69" stroke="#000" stroke-width="2.6" stroke-linecap="round"/>
<line x1="261.86" y1="863.61" x2="261.86" y2="877.42" stroke="#000" stroke-width="2.6" stroke-linecap="round"/>
<line x1="321.29" y1="895.44" x2="321.29" y2="909.61" stroke="#000" stroke-width="2.6" stroke-linecap="round"/>
<line x1="383.65" y1="928.85" x2="383.65" y2="943.4" stroke="#000" stroke-width="2.6" stroke-linecap="round"/>
<line x1="449.15" y1="963.94" x2="449.15" y2="978.88" stroke="#000" stroke-width="2.6" stroke-linecap="round"/>
<line x1="518.04" y1="1000.84" x2="518.04" y2="1016.2" stroke="#000" stroke-width="2.6" stroke-linecap="round"/>
<line x1="590.59" y1="1039.7" x2="590.59" y2="1055.51" stroke="#000" stroke-width="2.6" stroke-linecap="round"/>
<line x1="756.38" y1="1013.97" x2="756.38" y2="1029.47" stroke="#000" stroke-width="2.6" stroke-linecap="round"/>
<line x1="1044.41" y1="910.6" x2="1044.41" y2="924.9" stroke="#000" stroke-width="2.6" stroke-linecap="round"/>
<g class="t">
<text transform="translate(130.18,819.06) translate(-22.8,10.4) scale(0.95,1)" font-size="32">0. 0</text>
<text transform="translate(125.53,706.36) translate(-22.72,10.5) scale(0.95,1)" font-size="32.31">0. 1</text>
<text transform="translate(120.39,591.45) translate(-23.02,10.6) scale(0.95,1)" font-size="32.63">0. 2</text>
<text transform="translate(115,474.25) translate(-23.48,10.71) scale(0.95,1)" font-size="32.95">0. 3</text>
<text transform="translate(109.35,354.7) translate(-24.11,10.82) scale(0.95,1)" font-size="33.28">0. 4</text>
<text transform="translate(104.37,232.73) translate(-23.96,10.93) scale(0.95,1)" font-size="33.62">0. 5</text>
<text transform="translate(98.73,108.26) translate(-24.36,11.04) scale(0.95,1)" font-size="33.97">0. 6</text>
<text transform="translate(205.3,874) translate(-8.07,10.68) scale(0.95,1)" font-size="32.37">1</text>
<text transform="translate(261.6,905) translate(-8.18,10.68) scale(0.95,1)" font-size="33.13">5</text>
<text transform="translate(322,937.8) translate(-16.84,11.11) scale(0.95,1)" font-size="33.92">10</text>
<text transform="translate(383.3,972.4) translate(-16.84,11.38) scale(0.95,1)" font-size="34.76">50</text>
<text transform="translate(451,1009) translate(-26.15,11.67) scale(0.95,1)" font-size="35.63">100</text>
<text transform="translate(518,1045.5) translate(-26.39,11.97) scale(0.95,1)" font-size="36.55">500</text>
<text transform="translate(592,1086) translate(-36.45,12.29) scale(0.95,1)" font-size="37.52">1000</text>
<text transform="translate(756.4,1060) translate(-17.59,12.07) scale(0.95,1)" font-size="36.86">20</text>
<text transform="translate(1044.5,953) translate(-16.66,11.21) scale(0.95,1)" font-size="34.22">70</text>
<text transform="translate(40.06,345.74) rotate(88.2)" font-size="38.85">Porosity Percent</text>
<text transform="translate(226.28,964.69) rotate(31) scale(0.98,1)" font-size="40.3">Pore Size/μm</text>
<text transform="translate(866.34,1083.81) rotate(-21.06)" font-size="40.5">temperature/°C</text>
</g>
</svg></body></html>
